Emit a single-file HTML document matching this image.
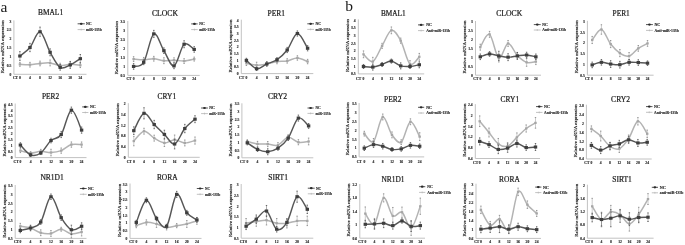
<!DOCTYPE html>
<html><head><meta charset="utf-8"><title>Figure</title>
<style>
html,body{margin:0;padding:0;background:#fff;}
body{width:685px;height:245px;overflow:hidden;}
svg{display:block;filter:grayscale(1) blur(0.3px);}
text{font-family:"Liberation Serif", serif;fill:#1a1a1a;}
.tk{font-size:3.7px;font-weight:bold;stroke:#1a1a1a;stroke-width:0.12px;}
.yt{font-size:4.9px;stroke:#1a1a1a;stroke-width:0.16px;}
.ti{font-size:7.4px;stroke:#1a1a1a;stroke-width:0.2px;}
.lg{font-size:3.9px;font-weight:bold;stroke:#1a1a1a;stroke-width:0.12px;}
.pl{font-size:15.5px;}
</style></head><body>
<svg width="685" height="245" viewBox="0 0 685 245">
<rect width="685" height="245" fill="#fff"/>
<text x="0.6" y="11.6" class="pl">a</text>
<text x="345.3" y="11.2" class="pl">b</text>
<path d="M13.9,20.4 V74.3 H86.5" fill="none" stroke="#c2c2c2" stroke-width="1"/>
<text x="11.3" y="75.7" class="tk" text-anchor="end">0</text>
<text x="11.3" y="66.83" class="tk" text-anchor="end">0.5</text>
<text x="11.3" y="57.97" class="tk" text-anchor="end">1</text>
<text x="11.3" y="49.1" class="tk" text-anchor="end">1.5</text>
<text x="11.3" y="40.23" class="tk" text-anchor="end">2</text>
<text x="11.3" y="31.37" class="tk" text-anchor="end">2.5</text>
<text x="11.3" y="22.5" class="tk" text-anchor="end">3</text>
<text x="12.9" y="79.3" class="tk">CT</text>
<text x="19.9" y="79.3" class="tk" text-anchor="middle">0</text>
<text x="29.97" y="79.3" class="tk" text-anchor="middle">4</text>
<text x="40.04" y="79.3" class="tk" text-anchor="middle">8</text>
<text x="50.11" y="79.3" class="tk" text-anchor="middle">12</text>
<text x="60.18" y="79.3" class="tk" text-anchor="middle">16</text>
<text x="70.25" y="79.3" class="tk" text-anchor="middle">20</text>
<text x="80.32" y="79.3" class="tk" text-anchor="middle">24</text>
<text class="yt" transform="translate(4.4,46.8) rotate(-90)" text-anchor="middle" textLength="53" lengthAdjust="spacingAndGlyphs">Relative mRNA expression</text>
<text x="38" y="15.4" class="ti" textLength="25.1" lengthAdjust="spacingAndGlyphs">BMAL1</text>
<line x1="77.6" y1="23.8" x2="84.8" y2="23.8" stroke="#555" stroke-width="1.0"/>
<ellipse cx="81.2" cy="23.8" rx="1.4" ry="1.1" fill="#2a2a2a"/>
<line x1="81.2" y1="28.7" x2="81.2" y2="30.5" stroke="#aaa" stroke-width="0.6"/>
<line x1="77.6" y1="29.6" x2="84.8" y2="29.6" stroke="#b3b3b3" stroke-width="0.8"/>
<text x="86.1" y="25.2" class="lg" textLength="5.5" lengthAdjust="spacingAndGlyphs">NC</text>
<text x="86.1" y="31" class="lg" textLength="15.7" lengthAdjust="spacingAndGlyphs">miR-135b</text>
<path d="M19.9,62.4 V66.3" stroke="#a0a0a0" stroke-width="0.55" fill="none"/>
<path d="M19.2,62.4 H20.6 M19.2,66.3 H20.6" stroke="#808080" stroke-width="0.8" fill="none"/>
<path d="M29.97,62.36 V67.04" stroke="#a0a0a0" stroke-width="0.55" fill="none"/>
<path d="M29.27,62.36 H30.67 M29.27,67.04 H30.67" stroke="#808080" stroke-width="0.8" fill="none"/>
<path d="M40.04,61.12 V65.8" stroke="#a0a0a0" stroke-width="0.55" fill="none"/>
<path d="M39.34,61.12 H40.74 M39.34,65.8 H40.74" stroke="#808080" stroke-width="0.8" fill="none"/>
<path d="M50.11,60 V65.85" stroke="#a0a0a0" stroke-width="0.55" fill="none"/>
<path d="M49.41,60 H50.81 M49.41,65.85 H50.81" stroke="#808080" stroke-width="0.8" fill="none"/>
<path d="M60.18,63.25 V67.93" stroke="#a0a0a0" stroke-width="0.55" fill="none"/>
<path d="M59.48,63.25 H60.88 M59.48,67.93 H60.88" stroke="#808080" stroke-width="0.8" fill="none"/>
<path d="M70.25,62.01 V66.69" stroke="#a0a0a0" stroke-width="0.55" fill="none"/>
<path d="M69.55,62.01 H70.95 M69.55,66.69 H70.95" stroke="#808080" stroke-width="0.8" fill="none"/>
<path d="M80.32,62.89 V67.57" stroke="#a0a0a0" stroke-width="0.55" fill="none"/>
<path d="M79.62,62.89 H81.02 M79.62,67.57 H81.02" stroke="#808080" stroke-width="0.8" fill="none"/>
<path d="M19.9,64.35 C21.58,64.41 26.61,64.85 29.97,64.7 C33.33,64.55 36.68,63.76 40.04,63.46 C43.4,63.16 46.75,62.57 50.11,62.93 C53.47,63.28 56.82,65.35 60.18,65.59 C63.54,65.82 66.89,64.41 70.25,64.35 C73.61,64.29 78.64,65.09 80.32,65.23" fill="none" stroke="#b3b3b3" stroke-width="1.5"/>
<rect x="18.7" y="63.25" width="2.4" height="2.2" fill="#a6a6a6"/>
<rect x="28.77" y="63.6" width="2.4" height="2.2" fill="#a6a6a6"/>
<rect x="38.84" y="62.36" width="2.4" height="2.2" fill="#a6a6a6"/>
<rect x="48.91" y="61.83" width="2.4" height="2.2" fill="#a6a6a6"/>
<rect x="58.98" y="64.49" width="2.4" height="2.2" fill="#a6a6a6"/>
<rect x="69.05" y="63.25" width="2.4" height="2.2" fill="#a6a6a6"/>
<rect x="79.12" y="64.13" width="2.4" height="2.2" fill="#a6a6a6"/>
<path d="M19.9,51.63 V60.39" stroke="#6e6e6e" stroke-width="0.55" fill="none"/>
<path d="M19.2,51.63 H20.6 M19.2,60.39 H20.6" stroke="#4a4a4a" stroke-width="0.8" fill="none"/>
<path d="M29.97,43.35 V51.65" stroke="#6e6e6e" stroke-width="0.55" fill="none"/>
<path d="M29.27,43.35 H30.67 M29.27,51.65 H30.67" stroke="#4a4a4a" stroke-width="0.8" fill="none"/>
<path d="M40.04,27.11 V36.33" stroke="#6e6e6e" stroke-width="0.55" fill="none"/>
<path d="M39.34,27.11 H40.74 M39.34,36.33 H40.74" stroke="#4a4a4a" stroke-width="0.8" fill="none"/>
<path d="M50.11,48.83 V55.75" stroke="#6e6e6e" stroke-width="0.55" fill="none"/>
<path d="M49.41,48.83 H50.81 M49.41,55.75 H50.81" stroke="#4a4a4a" stroke-width="0.8" fill="none"/>
<path d="M60.18,64.59 V70.13" stroke="#6e6e6e" stroke-width="0.55" fill="none"/>
<path d="M59.48,64.59 H60.88 M59.48,70.13 H60.88" stroke="#4a4a4a" stroke-width="0.8" fill="none"/>
<path d="M70.25,61.42 V68.34" stroke="#6e6e6e" stroke-width="0.55" fill="none"/>
<path d="M69.55,61.42 H70.95 M69.55,68.34 H70.95" stroke="#4a4a4a" stroke-width="0.8" fill="none"/>
<path d="M80.32,54.52 V62.82" stroke="#6e6e6e" stroke-width="0.55" fill="none"/>
<path d="M79.62,54.52 H81.02 M79.62,62.82 H81.02" stroke="#4a4a4a" stroke-width="0.8" fill="none"/>
<path d="M19.9,56.01 C21.58,54.59 26.61,51.55 29.97,47.5 C33.33,43.45 36.68,30.92 40.04,31.72 C43.4,32.52 46.75,46.35 50.11,52.29 C53.47,58.23 56.82,65.26 60.18,67.36 C63.54,69.46 66.89,66.33 70.25,64.88 C73.61,63.43 78.64,59.71 80.32,58.67" fill="none" stroke="#575757" stroke-width="1.45"/>
<rect x="18.2" y="54.46" width="3.4" height="3.1" fill="#3e3e3e"/>
<rect x="28.27" y="45.95" width="3.4" height="3.1" fill="#3e3e3e"/>
<rect x="38.34" y="30.17" width="3.4" height="3.1" fill="#3e3e3e"/>
<rect x="48.41" y="50.74" width="3.4" height="3.1" fill="#3e3e3e"/>
<rect x="58.48" y="65.81" width="3.4" height="3.1" fill="#3e3e3e"/>
<rect x="68.55" y="63.33" width="3.4" height="3.1" fill="#3e3e3e"/>
<rect x="78.62" y="57.12" width="3.4" height="3.1" fill="#3e3e3e"/>
<path d="M127.8,21 V75.4 H199.7" fill="none" stroke="#c2c2c2" stroke-width="1"/>
<text x="125.2" y="76.8" class="tk" text-anchor="end">0.5</text>
<text x="125.2" y="67.85" class="tk" text-anchor="end">1</text>
<text x="125.2" y="58.9" class="tk" text-anchor="end">1.5</text>
<text x="125.2" y="49.95" class="tk" text-anchor="end">2</text>
<text x="125.2" y="41" class="tk" text-anchor="end">2.5</text>
<text x="125.2" y="32.05" class="tk" text-anchor="end">3</text>
<text x="125.2" y="23.1" class="tk" text-anchor="end">3.5</text>
<text x="126.4" y="79.7" class="tk">CT</text>
<text x="133.6" y="79.7" class="tk" text-anchor="middle">0</text>
<text x="143.7" y="79.7" class="tk" text-anchor="middle">4</text>
<text x="153.8" y="79.7" class="tk" text-anchor="middle">8</text>
<text x="163.9" y="79.7" class="tk" text-anchor="middle">12</text>
<text x="174" y="79.7" class="tk" text-anchor="middle">16</text>
<text x="184.1" y="79.7" class="tk" text-anchor="middle">20</text>
<text x="194.2" y="79.7" class="tk" text-anchor="middle">24</text>
<text class="yt" transform="translate(118.3,47.65) rotate(-90)" text-anchor="middle" textLength="53" lengthAdjust="spacingAndGlyphs">Relative mRNA expression</text>
<text x="151.9" y="15.5" class="ti" textLength="26.1" lengthAdjust="spacingAndGlyphs">CLOCK</text>
<line x1="191.2" y1="23.9" x2="197.7" y2="23.9" stroke="#555" stroke-width="1.0"/>
<ellipse cx="194.45" cy="23.9" rx="1.4" ry="1.1" fill="#2a2a2a"/>
<line x1="194.45" y1="28.7" x2="194.45" y2="30.5" stroke="#aaa" stroke-width="0.6"/>
<line x1="191.2" y1="29.6" x2="197.7" y2="29.6" stroke="#b3b3b3" stroke-width="0.8"/>
<text x="199.2" y="25.3" class="lg" textLength="5.4" lengthAdjust="spacingAndGlyphs">NC</text>
<text x="199.2" y="31" class="lg" textLength="15.9" lengthAdjust="spacingAndGlyphs">miR-135b</text>
<path d="M133.6,56.73 V61.45" stroke="#a0a0a0" stroke-width="0.55" fill="none"/>
<path d="M132.9,56.73 H134.3 M132.9,61.45 H134.3" stroke="#808080" stroke-width="0.8" fill="none"/>
<path d="M143.7,57.44 V62.17" stroke="#a0a0a0" stroke-width="0.55" fill="none"/>
<path d="M143,57.44 H144.4 M143,62.17 H144.4" stroke="#808080" stroke-width="0.8" fill="none"/>
<path d="M153.8,56.37 V61.09" stroke="#a0a0a0" stroke-width="0.55" fill="none"/>
<path d="M153.1,56.37 H154.5 M153.1,61.09 H154.5" stroke="#808080" stroke-width="0.8" fill="none"/>
<path d="M163.9,57.75 V63.65" stroke="#a0a0a0" stroke-width="0.55" fill="none"/>
<path d="M163.2,57.75 H164.6 M163.2,63.65 H164.6" stroke="#808080" stroke-width="0.8" fill="none"/>
<path d="M174,57.8 V62.53" stroke="#a0a0a0" stroke-width="0.55" fill="none"/>
<path d="M173.3,57.8 H174.7 M173.3,62.53 H174.7" stroke="#808080" stroke-width="0.8" fill="none"/>
<path d="M184.1,58.7 V63.42" stroke="#a0a0a0" stroke-width="0.55" fill="none"/>
<path d="M183.4,58.7 H184.8 M183.4,63.42 H184.8" stroke="#808080" stroke-width="0.8" fill="none"/>
<path d="M194.2,57.12 V61.06" stroke="#a0a0a0" stroke-width="0.55" fill="none"/>
<path d="M193.5,57.12 H194.9 M193.5,61.06 H194.9" stroke="#808080" stroke-width="0.8" fill="none"/>
<path d="M133.6,59.09 C135.28,59.21 140.33,59.87 143.7,59.81 C147.07,59.75 150.43,58.58 153.8,58.73 C157.17,58.88 160.53,60.46 163.9,60.7 C167.27,60.94 170.63,60.1 174,60.16 C177.37,60.22 180.73,61.24 184.1,61.06 C187.47,60.88 192.52,59.42 194.2,59.09" fill="none" stroke="#b3b3b3" stroke-width="1.5"/>
<rect x="132.4" y="57.99" width="2.4" height="2.2" fill="#a6a6a6"/>
<rect x="142.5" y="58.71" width="2.4" height="2.2" fill="#a6a6a6"/>
<rect x="152.6" y="57.63" width="2.4" height="2.2" fill="#a6a6a6"/>
<rect x="162.7" y="59.6" width="2.4" height="2.2" fill="#a6a6a6"/>
<rect x="172.8" y="59.06" width="2.4" height="2.2" fill="#a6a6a6"/>
<rect x="182.9" y="59.96" width="2.4" height="2.2" fill="#a6a6a6"/>
<rect x="193" y="57.99" width="2.4" height="2.2" fill="#a6a6a6"/>
<path d="M133.6,63.64 V69.22" stroke="#6e6e6e" stroke-width="0.55" fill="none"/>
<path d="M132.9,63.64 H134.3 M132.9,69.22 H134.3" stroke="#4a4a4a" stroke-width="0.8" fill="none"/>
<path d="M143.7,59.99 V64.64" stroke="#6e6e6e" stroke-width="0.55" fill="none"/>
<path d="M143,59.99 H144.4 M143,64.64 H144.4" stroke="#4a4a4a" stroke-width="0.8" fill="none"/>
<path d="M153.8,30.36 V37.34" stroke="#6e6e6e" stroke-width="0.55" fill="none"/>
<path d="M153.1,30.36 H154.5 M153.1,37.34 H154.5" stroke="#4a4a4a" stroke-width="0.8" fill="none"/>
<path d="M163.9,47.88 V53.47" stroke="#6e6e6e" stroke-width="0.55" fill="none"/>
<path d="M163.2,47.88 H164.6 M163.2,53.47 H164.6" stroke="#4a4a4a" stroke-width="0.8" fill="none"/>
<path d="M174,63.1 V68.68" stroke="#6e6e6e" stroke-width="0.55" fill="none"/>
<path d="M173.3,63.1 H174.7 M173.3,68.68 H174.7" stroke="#4a4a4a" stroke-width="0.8" fill="none"/>
<path d="M184.1,40.74 V47.72" stroke="#6e6e6e" stroke-width="0.55" fill="none"/>
<path d="M183.4,40.74 H184.8 M183.4,47.72 H184.8" stroke="#4a4a4a" stroke-width="0.8" fill="none"/>
<path d="M194.2,46.63 V52.22" stroke="#6e6e6e" stroke-width="0.55" fill="none"/>
<path d="M193.5,46.63 H194.9 M193.5,52.22 H194.9" stroke="#4a4a4a" stroke-width="0.8" fill="none"/>
<path d="M133.6,66.43 C135.28,65.74 140.33,67.74 143.7,62.31 C147.07,56.88 150.43,35.79 153.8,33.85 C157.17,31.91 160.53,45.34 163.9,50.68 C167.27,56.02 170.63,66.97 174,65.89 C177.37,64.82 180.73,46.98 184.1,44.23 C187.47,41.49 192.52,48.56 194.2,49.42" fill="none" stroke="#575757" stroke-width="1.45"/>
<rect x="131.9" y="64.88" width="3.4" height="3.1" fill="#3e3e3e"/>
<rect x="142" y="60.76" width="3.4" height="3.1" fill="#3e3e3e"/>
<rect x="152.1" y="32.3" width="3.4" height="3.1" fill="#3e3e3e"/>
<rect x="162.2" y="49.13" width="3.4" height="3.1" fill="#3e3e3e"/>
<rect x="172.3" y="64.34" width="3.4" height="3.1" fill="#3e3e3e"/>
<rect x="182.4" y="42.68" width="3.4" height="3.1" fill="#3e3e3e"/>
<rect x="192.5" y="47.87" width="3.4" height="3.1" fill="#3e3e3e"/>
<path d="M241.3,19.7 V73.6 H313.3" fill="none" stroke="#c2c2c2" stroke-width="1"/>
<text x="238.7" y="75" class="tk" text-anchor="end">0</text>
<text x="238.7" y="68.35" class="tk" text-anchor="end">0.5</text>
<text x="238.7" y="61.7" class="tk" text-anchor="end">1</text>
<text x="238.7" y="55.05" class="tk" text-anchor="end">1.5</text>
<text x="238.7" y="48.4" class="tk" text-anchor="end">2</text>
<text x="238.7" y="41.75" class="tk" text-anchor="end">2.5</text>
<text x="238.7" y="35.1" class="tk" text-anchor="end">3</text>
<text x="238.7" y="28.45" class="tk" text-anchor="end">3.5</text>
<text x="238.7" y="21.8" class="tk" text-anchor="end">4</text>
<text x="239.1" y="79" class="tk">CT</text>
<text x="246.4" y="79" class="tk" text-anchor="middle">0</text>
<text x="256.6" y="79" class="tk" text-anchor="middle">4</text>
<text x="266.8" y="79" class="tk" text-anchor="middle">8</text>
<text x="277" y="79" class="tk" text-anchor="middle">12</text>
<text x="287.2" y="79" class="tk" text-anchor="middle">16</text>
<text x="297.4" y="79" class="tk" text-anchor="middle">20</text>
<text x="307.6" y="79" class="tk" text-anchor="middle">24</text>
<text class="yt" transform="translate(231.8,46.1) rotate(-90)" text-anchor="middle" textLength="53" lengthAdjust="spacingAndGlyphs">Relative mRNA expression</text>
<text x="267.6" y="15.5" class="ti" textLength="17.5" lengthAdjust="spacingAndGlyphs">PER1</text>
<line x1="307.3" y1="23.8" x2="314" y2="23.8" stroke="#555" stroke-width="1.0"/>
<ellipse cx="310.65" cy="23.8" rx="1.4" ry="1.1" fill="#2a2a2a"/>
<line x1="310.65" y1="28.5" x2="310.65" y2="30.3" stroke="#aaa" stroke-width="0.6"/>
<line x1="307.3" y1="29.4" x2="314" y2="29.4" stroke="#b3b3b3" stroke-width="0.8"/>
<text x="315.4" y="25.2" class="lg" textLength="5.5" lengthAdjust="spacingAndGlyphs">NC</text>
<text x="315.4" y="30.8" class="lg" textLength="15.3" lengthAdjust="spacingAndGlyphs">miR-135b</text>
<path d="M246.4,61.1 V65.49" stroke="#a0a0a0" stroke-width="0.55" fill="none"/>
<path d="M245.7,61.1 H247.1 M245.7,65.49 H247.1" stroke="#808080" stroke-width="0.8" fill="none"/>
<path d="M256.6,62.23 V68.08" stroke="#a0a0a0" stroke-width="0.55" fill="none"/>
<path d="M255.9,62.23 H257.3 M255.9,68.08 H257.3" stroke="#808080" stroke-width="0.8" fill="none"/>
<path d="M266.8,61.76 V66.15" stroke="#a0a0a0" stroke-width="0.55" fill="none"/>
<path d="M266.1,61.76 H267.5 M266.1,66.15 H267.5" stroke="#808080" stroke-width="0.8" fill="none"/>
<path d="M277,59.37 V63.76" stroke="#a0a0a0" stroke-width="0.55" fill="none"/>
<path d="M276.3,59.37 H277.7 M276.3,63.76 H277.7" stroke="#808080" stroke-width="0.8" fill="none"/>
<path d="M287.2,58.7 V63.09" stroke="#a0a0a0" stroke-width="0.55" fill="none"/>
<path d="M286.5,58.7 H287.9 M286.5,63.09 H287.9" stroke="#808080" stroke-width="0.8" fill="none"/>
<path d="M297.4,55.78 V60.17" stroke="#a0a0a0" stroke-width="0.55" fill="none"/>
<path d="M296.7,55.78 H298.1 M296.7,60.17 H298.1" stroke="#808080" stroke-width="0.8" fill="none"/>
<path d="M307.6,59.37 V63.76" stroke="#a0a0a0" stroke-width="0.55" fill="none"/>
<path d="M306.9,59.37 H308.3 M306.9,63.76 H308.3" stroke="#808080" stroke-width="0.8" fill="none"/>
<path d="M246.4,63.29 C248.1,63.6 253.2,65.04 256.6,65.15 C260,65.26 263.4,64.56 266.8,63.96 C270.2,63.36 273.6,62.07 277,61.56 C280.4,61.05 283.8,61.5 287.2,60.9 C290.6,60.3 294,57.86 297.4,57.97 C300.8,58.08 305.9,60.96 307.6,61.56" fill="none" stroke="#b3b3b3" stroke-width="1.5"/>
<rect x="245.2" y="62.19" width="2.4" height="2.2" fill="#a6a6a6"/>
<rect x="255.4" y="64.05" width="2.4" height="2.2" fill="#a6a6a6"/>
<rect x="265.6" y="62.86" width="2.4" height="2.2" fill="#a6a6a6"/>
<rect x="275.8" y="60.46" width="2.4" height="2.2" fill="#a6a6a6"/>
<rect x="286" y="59.8" width="2.4" height="2.2" fill="#a6a6a6"/>
<rect x="296.2" y="56.87" width="2.4" height="2.2" fill="#a6a6a6"/>
<rect x="306.4" y="60.46" width="2.4" height="2.2" fill="#a6a6a6"/>
<path d="M246.4,58.29 V62.44" stroke="#6e6e6e" stroke-width="0.55" fill="none"/>
<path d="M245.7,58.29 H247.1 M245.7,62.44 H247.1" stroke="#4a4a4a" stroke-width="0.8" fill="none"/>
<path d="M256.6,67.02 V70.47" stroke="#6e6e6e" stroke-width="0.55" fill="none"/>
<path d="M255.9,67.02 H257.3 M255.9,70.47 H257.3" stroke="#4a4a4a" stroke-width="0.8" fill="none"/>
<path d="M266.8,61.88 V66.03" stroke="#6e6e6e" stroke-width="0.55" fill="none"/>
<path d="M266.1,61.88 H267.5 M266.1,66.03 H267.5" stroke="#4a4a4a" stroke-width="0.8" fill="none"/>
<path d="M277,57.63 V61.78" stroke="#6e6e6e" stroke-width="0.55" fill="none"/>
<path d="M276.3,57.63 H277.7 M276.3,61.78 H277.7" stroke="#4a4a4a" stroke-width="0.8" fill="none"/>
<path d="M287.2,47.4 V52.59" stroke="#6e6e6e" stroke-width="0.55" fill="none"/>
<path d="M286.5,47.4 H287.9 M286.5,52.59 H287.9" stroke="#4a4a4a" stroke-width="0.8" fill="none"/>
<path d="M297.4,30.91 V36.09" stroke="#6e6e6e" stroke-width="0.55" fill="none"/>
<path d="M296.7,30.91 H298.1 M296.7,36.09 H298.1" stroke="#4a4a4a" stroke-width="0.8" fill="none"/>
<path d="M307.6,45.67 V50.86" stroke="#6e6e6e" stroke-width="0.55" fill="none"/>
<path d="M306.9,45.67 H308.3 M306.9,50.86 H308.3" stroke="#4a4a4a" stroke-width="0.8" fill="none"/>
<path d="M246.4,60.37 C248.1,61.76 253.2,68.15 256.6,68.75 C260,69.34 263.4,65.46 266.8,63.96 C270.2,62.45 273.6,62.03 277,59.7 C280.4,57.37 283.8,54.36 287.2,49.99 C290.6,45.63 294,33.79 297.4,33.5 C300.8,33.21 305.9,45.8 307.6,48.26" fill="none" stroke="#575757" stroke-width="1.45"/>
<rect x="244.7" y="58.82" width="3.4" height="3.1" fill="#3e3e3e"/>
<rect x="254.9" y="67.2" width="3.4" height="3.1" fill="#3e3e3e"/>
<rect x="265.1" y="62.41" width="3.4" height="3.1" fill="#3e3e3e"/>
<rect x="275.3" y="58.15" width="3.4" height="3.1" fill="#3e3e3e"/>
<rect x="285.5" y="48.44" width="3.4" height="3.1" fill="#3e3e3e"/>
<rect x="295.7" y="31.95" width="3.4" height="3.1" fill="#3e3e3e"/>
<rect x="305.9" y="46.71" width="3.4" height="3.1" fill="#3e3e3e"/>
<path d="M15.2,103.5 V157.6 H86.5" fill="none" stroke="#c2c2c2" stroke-width="1"/>
<text x="12.6" y="159" class="tk" text-anchor="end">0</text>
<text x="12.6" y="153.07" class="tk" text-anchor="end">0.5</text>
<text x="12.6" y="147.13" class="tk" text-anchor="end">1</text>
<text x="12.6" y="141.2" class="tk" text-anchor="end">1.5</text>
<text x="12.6" y="135.27" class="tk" text-anchor="end">2</text>
<text x="12.6" y="129.33" class="tk" text-anchor="end">2.5</text>
<text x="12.6" y="123.4" class="tk" text-anchor="end">3</text>
<text x="12.6" y="117.47" class="tk" text-anchor="end">3.5</text>
<text x="12.6" y="111.53" class="tk" text-anchor="end">4</text>
<text x="12.6" y="105.6" class="tk" text-anchor="end">4.5</text>
<text x="13.5" y="162.8" class="tk">CT</text>
<text x="20.4" y="162.8" class="tk" text-anchor="middle">0</text>
<text x="30.6" y="162.8" class="tk" text-anchor="middle">4</text>
<text x="40.8" y="162.8" class="tk" text-anchor="middle">8</text>
<text x="51" y="162.8" class="tk" text-anchor="middle">12</text>
<text x="61.2" y="162.8" class="tk" text-anchor="middle">16</text>
<text x="71.4" y="162.8" class="tk" text-anchor="middle">20</text>
<text x="81.6" y="162.8" class="tk" text-anchor="middle">24</text>
<text class="yt" transform="translate(5.7,130) rotate(-90)" text-anchor="middle" textLength="53" lengthAdjust="spacingAndGlyphs">Relative mRNA expression</text>
<text x="41.9" y="98.5" class="ti" textLength="17.2" lengthAdjust="spacingAndGlyphs">PER2</text>
<line x1="82.2" y1="106.9" x2="88.4" y2="106.9" stroke="#555" stroke-width="1.0"/>
<ellipse cx="85.3" cy="106.9" rx="1.4" ry="1.1" fill="#2a2a2a"/>
<line x1="85.3" y1="111.6" x2="85.3" y2="113.4" stroke="#aaa" stroke-width="0.6"/>
<line x1="82.2" y1="112.5" x2="88.4" y2="112.5" stroke="#b3b3b3" stroke-width="0.8"/>
<text x="90" y="108.3" class="lg" textLength="5.6" lengthAdjust="spacingAndGlyphs">NC</text>
<text x="90" y="113.9" class="lg" textLength="16" lengthAdjust="spacingAndGlyphs">miR-135b</text>
<path d="M20.4,148.68 V152.59" stroke="#a0a0a0" stroke-width="0.55" fill="none"/>
<path d="M19.7,148.68 H21.1 M19.7,152.59 H21.1" stroke="#808080" stroke-width="0.8" fill="none"/>
<path d="M30.6,151.7 V154.31" stroke="#a0a0a0" stroke-width="0.55" fill="none"/>
<path d="M29.9,151.7 H31.3 M29.9,154.31 H31.3" stroke="#808080" stroke-width="0.8" fill="none"/>
<path d="M40.8,149.39 V153.31" stroke="#a0a0a0" stroke-width="0.55" fill="none"/>
<path d="M40.1,149.39 H41.5 M40.1,153.31 H41.5" stroke="#808080" stroke-width="0.8" fill="none"/>
<path d="M51,149.27 V155.8" stroke="#a0a0a0" stroke-width="0.55" fill="none"/>
<path d="M50.3,149.27 H51.7 M50.3,155.8 H51.7" stroke="#808080" stroke-width="0.8" fill="none"/>
<path d="M61.2,148.03 V153.25" stroke="#a0a0a0" stroke-width="0.55" fill="none"/>
<path d="M60.5,148.03 H61.9 M60.5,153.25 H61.9" stroke="#808080" stroke-width="0.8" fill="none"/>
<path d="M71.4,141.97 V147.19" stroke="#a0a0a0" stroke-width="0.55" fill="none"/>
<path d="M70.7,141.97 H72.1 M70.7,147.19 H72.1" stroke="#808080" stroke-width="0.8" fill="none"/>
<path d="M81.6,141.97 V147.19" stroke="#a0a0a0" stroke-width="0.55" fill="none"/>
<path d="M80.9,141.97 H82.3 M80.9,147.19 H82.3" stroke="#808080" stroke-width="0.8" fill="none"/>
<path d="M20.4,150.64 C22.1,151.03 27.2,152.89 30.6,153.01 C34,153.13 37.4,151.43 40.8,151.35 C44.2,151.27 47.6,152.65 51,152.53 C54.4,152.42 57.8,151.96 61.2,150.64 C64.6,149.31 68,145.59 71.4,144.58 C74.8,143.58 79.9,144.58 81.6,144.58" fill="none" stroke="#b3b3b3" stroke-width="1.5"/>
<rect x="19.2" y="149.54" width="2.4" height="2.2" fill="#a6a6a6"/>
<rect x="29.4" y="151.91" width="2.4" height="2.2" fill="#a6a6a6"/>
<rect x="39.6" y="150.25" width="2.4" height="2.2" fill="#a6a6a6"/>
<rect x="49.8" y="151.43" width="2.4" height="2.2" fill="#a6a6a6"/>
<rect x="60" y="149.54" width="2.4" height="2.2" fill="#a6a6a6"/>
<rect x="70.2" y="143.48" width="2.4" height="2.2" fill="#a6a6a6"/>
<rect x="80.4" y="143.48" width="2.4" height="2.2" fill="#a6a6a6"/>
<path d="M20.4,142.74 V147.37" stroke="#6e6e6e" stroke-width="0.55" fill="none"/>
<path d="M19.7,142.74 H21.1 M19.7,147.37 H21.1" stroke="#4a4a4a" stroke-width="0.8" fill="none"/>
<path d="M30.6,153.37 V156.45" stroke="#6e6e6e" stroke-width="0.55" fill="none"/>
<path d="M29.9,153.37 H31.3 M29.9,156.45 H31.3" stroke="#4a4a4a" stroke-width="0.8" fill="none"/>
<path d="M40.8,151.47 V154.55" stroke="#6e6e6e" stroke-width="0.55" fill="none"/>
<path d="M40.1,151.47 H41.5 M40.1,154.55 H41.5" stroke="#4a4a4a" stroke-width="0.8" fill="none"/>
<path d="M51,138.24 V142.86" stroke="#6e6e6e" stroke-width="0.55" fill="none"/>
<path d="M50.3,138.24 H51.7 M50.3,142.86 H51.7" stroke="#4a4a4a" stroke-width="0.8" fill="none"/>
<path d="M61.2,131.41 V137.58" stroke="#6e6e6e" stroke-width="0.55" fill="none"/>
<path d="M60.5,131.41 H61.9 M60.5,137.58 H61.9" stroke="#4a4a4a" stroke-width="0.8" fill="none"/>
<path d="M71.4,107.09 V113.26" stroke="#6e6e6e" stroke-width="0.55" fill="none"/>
<path d="M70.7,107.09 H72.1 M70.7,113.26 H72.1" stroke="#4a4a4a" stroke-width="0.8" fill="none"/>
<path d="M81.6,127.02 V133.19" stroke="#6e6e6e" stroke-width="0.55" fill="none"/>
<path d="M80.9,127.02 H82.3 M80.9,133.19 H82.3" stroke="#4a4a4a" stroke-width="0.8" fill="none"/>
<path d="M20.4,145.06 C22.1,146.7 27.2,153.58 30.6,154.91 C34,156.23 37.4,155.4 40.8,153.01 C44.2,150.62 47.6,143.63 51,140.55 C54.4,137.46 57.8,139.56 61.2,134.5 C64.6,129.43 68,110.9 71.4,110.17 C74.8,109.44 79.9,126.78 81.6,130.11" fill="none" stroke="#575757" stroke-width="1.45"/>
<rect x="18.7" y="143.51" width="3.4" height="3.1" fill="#3e3e3e"/>
<rect x="28.9" y="153.36" width="3.4" height="3.1" fill="#3e3e3e"/>
<rect x="39.1" y="151.46" width="3.4" height="3.1" fill="#3e3e3e"/>
<rect x="49.3" y="139" width="3.4" height="3.1" fill="#3e3e3e"/>
<rect x="59.5" y="132.95" width="3.4" height="3.1" fill="#3e3e3e"/>
<rect x="69.7" y="108.62" width="3.4" height="3.1" fill="#3e3e3e"/>
<rect x="79.9" y="128.56" width="3.4" height="3.1" fill="#3e3e3e"/>
<path d="M128.3,103.2 V157.3 H199.7" fill="none" stroke="#c2c2c2" stroke-width="1"/>
<text x="125.7" y="158.7" class="tk" text-anchor="end">0</text>
<text x="125.7" y="148.02" class="tk" text-anchor="end">0.4</text>
<text x="125.7" y="137.34" class="tk" text-anchor="end">0.8</text>
<text x="125.7" y="126.66" class="tk" text-anchor="end">1.2</text>
<text x="125.7" y="115.98" class="tk" text-anchor="end">1.6</text>
<text x="125.7" y="105.3" class="tk" text-anchor="end">2</text>
<text x="126.7" y="162.7" class="tk">CT</text>
<text x="133.8" y="162.7" class="tk" text-anchor="middle">0</text>
<text x="144" y="162.7" class="tk" text-anchor="middle">4</text>
<text x="154.2" y="162.7" class="tk" text-anchor="middle">8</text>
<text x="164.4" y="162.7" class="tk" text-anchor="middle">12</text>
<text x="174.6" y="162.7" class="tk" text-anchor="middle">16</text>
<text x="184.8" y="162.7" class="tk" text-anchor="middle">20</text>
<text x="195" y="162.7" class="tk" text-anchor="middle">24</text>
<text class="yt" transform="translate(118.8,129.7) rotate(-90)" text-anchor="middle" textLength="53" lengthAdjust="spacingAndGlyphs">Relative mRNA expression</text>
<text x="157.6" y="98.5" class="ti" textLength="18.5" lengthAdjust="spacingAndGlyphs">CRY1</text>
<line x1="201.1" y1="108" x2="207.9" y2="108" stroke="#555" stroke-width="1.0"/>
<ellipse cx="204.5" cy="108" rx="1.4" ry="1.1" fill="#2a2a2a"/>
<line x1="204.5" y1="112.7" x2="204.5" y2="114.5" stroke="#aaa" stroke-width="0.6"/>
<line x1="201.1" y1="113.6" x2="207.9" y2="113.6" stroke="#b3b3b3" stroke-width="0.8"/>
<text x="209.2" y="109.4" class="lg" textLength="5.6" lengthAdjust="spacingAndGlyphs">NC</text>
<text x="209.2" y="115" class="lg" textLength="15.7" lengthAdjust="spacingAndGlyphs">miR-135b</text>
<path d="M133.8,136.38 V145.78" stroke="#a0a0a0" stroke-width="0.55" fill="none"/>
<path d="M133.1,136.38 H134.5 M133.1,145.78 H134.5" stroke="#808080" stroke-width="0.8" fill="none"/>
<path d="M144,128.26 V134.14" stroke="#a0a0a0" stroke-width="0.55" fill="none"/>
<path d="M143.3,128.26 H144.7 M143.3,134.14 H144.7" stroke="#808080" stroke-width="0.8" fill="none"/>
<path d="M154.2,135.21 V141.08" stroke="#a0a0a0" stroke-width="0.55" fill="none"/>
<path d="M153.5,135.21 H154.9 M153.5,141.08 H154.9" stroke="#808080" stroke-width="0.8" fill="none"/>
<path d="M164.4,139.42 V146.47" stroke="#a0a0a0" stroke-width="0.55" fill="none"/>
<path d="M163.7,139.42 H165.1 M163.7,146.47 H165.1" stroke="#808080" stroke-width="0.8" fill="none"/>
<path d="M174.6,135.05 V144.44" stroke="#a0a0a0" stroke-width="0.55" fill="none"/>
<path d="M173.9,135.05 H175.3 M173.9,144.44 H175.3" stroke="#808080" stroke-width="0.8" fill="none"/>
<path d="M184.8,140.01 V145.89" stroke="#a0a0a0" stroke-width="0.55" fill="none"/>
<path d="M184.1,140.01 H185.5 M184.1,145.89 H185.5" stroke="#808080" stroke-width="0.8" fill="none"/>
<path d="M195,137.02 V144.07" stroke="#a0a0a0" stroke-width="0.55" fill="none"/>
<path d="M194.3,137.02 H195.7 M194.3,144.07 H195.7" stroke="#808080" stroke-width="0.8" fill="none"/>
<path d="M133.8,141.08 C135.5,139.43 140.6,131.69 144,131.2 C147.4,130.71 150.8,136.19 154.2,138.14 C157.6,140.1 161,142.68 164.4,142.95 C167.8,143.22 171.2,139.75 174.6,139.75 C178,139.75 181.4,142.82 184.8,142.95 C188.2,143.08 193.3,140.95 195,140.55" fill="none" stroke="#b3b3b3" stroke-width="1.5"/>
<rect x="132.6" y="139.98" width="2.4" height="2.2" fill="#a6a6a6"/>
<rect x="142.8" y="130.1" width="2.4" height="2.2" fill="#a6a6a6"/>
<rect x="153" y="137.04" width="2.4" height="2.2" fill="#a6a6a6"/>
<rect x="163.2" y="141.85" width="2.4" height="2.2" fill="#a6a6a6"/>
<rect x="173.4" y="138.65" width="2.4" height="2.2" fill="#a6a6a6"/>
<rect x="183.6" y="141.85" width="2.4" height="2.2" fill="#a6a6a6"/>
<rect x="193.8" y="139.45" width="2.4" height="2.2" fill="#a6a6a6"/>
<path d="M133.8,126.85 V134.49" stroke="#6e6e6e" stroke-width="0.55" fill="none"/>
<path d="M133.1,126.85 H134.5 M133.1,134.49 H134.5" stroke="#4a4a4a" stroke-width="0.8" fill="none"/>
<path d="M144,107.76 V118.87" stroke="#6e6e6e" stroke-width="0.55" fill="none"/>
<path d="M143.3,107.76 H144.7 M143.3,118.87 H144.7" stroke="#4a4a4a" stroke-width="0.8" fill="none"/>
<path d="M154.2,120.36 V128.69" stroke="#6e6e6e" stroke-width="0.55" fill="none"/>
<path d="M153.5,120.36 H154.9 M153.5,128.69 H154.9" stroke="#4a4a4a" stroke-width="0.8" fill="none"/>
<path d="M164.4,130.24 V138.57" stroke="#6e6e6e" stroke-width="0.55" fill="none"/>
<path d="M163.7,130.24 H165.1 M163.7,138.57 H165.1" stroke="#4a4a4a" stroke-width="0.8" fill="none"/>
<path d="M174.6,139.16 V148.88" stroke="#6e6e6e" stroke-width="0.55" fill="none"/>
<path d="M173.9,139.16 H175.3 M173.9,148.88 H175.3" stroke="#4a4a4a" stroke-width="0.8" fill="none"/>
<path d="M184.8,124.37 V132.7" stroke="#6e6e6e" stroke-width="0.55" fill="none"/>
<path d="M184.1,124.37 H185.5 M184.1,132.7 H185.5" stroke="#4a4a4a" stroke-width="0.8" fill="none"/>
<path d="M195,115.72 V122.66" stroke="#6e6e6e" stroke-width="0.55" fill="none"/>
<path d="M194.3,115.72 H195.7 M194.3,122.66 H195.7" stroke="#4a4a4a" stroke-width="0.8" fill="none"/>
<path d="M133.8,130.67 C135.5,127.77 140.6,114.34 144,113.31 C147.4,112.29 150.8,121.01 154.2,124.53 C157.6,128.04 161,131.16 164.4,134.41 C167.8,137.65 171.2,145 174.6,144.02 C178,143.04 181.4,132.67 184.8,128.53 C188.2,124.39 193.3,120.74 195,119.19" fill="none" stroke="#575757" stroke-width="1.45"/>
<rect x="132.1" y="129.12" width="3.4" height="3.1" fill="#3e3e3e"/>
<rect x="142.3" y="111.76" width="3.4" height="3.1" fill="#3e3e3e"/>
<rect x="152.5" y="122.98" width="3.4" height="3.1" fill="#3e3e3e"/>
<rect x="162.7" y="132.85" width="3.4" height="3.1" fill="#3e3e3e"/>
<rect x="172.9" y="142.47" width="3.4" height="3.1" fill="#3e3e3e"/>
<rect x="183.1" y="126.98" width="3.4" height="3.1" fill="#3e3e3e"/>
<rect x="193.3" y="117.64" width="3.4" height="3.1" fill="#3e3e3e"/>
<path d="M241.9,103.3 V157.8 H313.3" fill="none" stroke="#c2c2c2" stroke-width="1"/>
<text x="239.3" y="159.2" class="tk" text-anchor="end">0</text>
<text x="239.3" y="151.51" class="tk" text-anchor="end">0.5</text>
<text x="239.3" y="143.83" class="tk" text-anchor="end">1</text>
<text x="239.3" y="136.14" class="tk" text-anchor="end">1.5</text>
<text x="239.3" y="128.46" class="tk" text-anchor="end">2</text>
<text x="239.3" y="120.77" class="tk" text-anchor="end">2.5</text>
<text x="239.3" y="113.09" class="tk" text-anchor="end">3</text>
<text x="239.3" y="105.4" class="tk" text-anchor="end">3.5</text>
<text x="240.1" y="163" class="tk">CT</text>
<text x="247.3" y="163" class="tk" text-anchor="middle">0</text>
<text x="257.52" y="163" class="tk" text-anchor="middle">4</text>
<text x="267.74" y="163" class="tk" text-anchor="middle">8</text>
<text x="277.96" y="163" class="tk" text-anchor="middle">12</text>
<text x="288.18" y="163" class="tk" text-anchor="middle">16</text>
<text x="298.4" y="163" class="tk" text-anchor="middle">20</text>
<text x="308.62" y="163" class="tk" text-anchor="middle">24</text>
<text class="yt" transform="translate(232.4,130) rotate(-90)" text-anchor="middle" textLength="53" lengthAdjust="spacingAndGlyphs">Relative mRNA expression</text>
<text x="267.9" y="98.5" class="ti" textLength="19.2" lengthAdjust="spacingAndGlyphs">CRY2</text>
<line x1="307.5" y1="108" x2="313.7" y2="108" stroke="#555" stroke-width="1.0"/>
<ellipse cx="310.6" cy="108" rx="1.4" ry="1.1" fill="#2a2a2a"/>
<line x1="310.6" y1="112.5" x2="310.6" y2="114.3" stroke="#aaa" stroke-width="0.6"/>
<line x1="307.5" y1="113.4" x2="313.7" y2="113.4" stroke="#b3b3b3" stroke-width="0.8"/>
<text x="315.4" y="109.4" class="lg" textLength="5.1" lengthAdjust="spacingAndGlyphs">NC</text>
<text x="315.4" y="114.8" class="lg" textLength="15.3" lengthAdjust="spacingAndGlyphs">miR-135b</text>
<path d="M247.3,139.77 V143.15" stroke="#a0a0a0" stroke-width="0.55" fill="none"/>
<path d="M246.6,139.77 H248 M246.6,143.15 H248" stroke="#808080" stroke-width="0.8" fill="none"/>
<path d="M257.52,141.38 V146.46" stroke="#a0a0a0" stroke-width="0.55" fill="none"/>
<path d="M256.82,141.38 H258.22 M256.82,146.46 H258.22" stroke="#808080" stroke-width="0.8" fill="none"/>
<path d="M267.74,141.54 V146.61" stroke="#a0a0a0" stroke-width="0.55" fill="none"/>
<path d="M267.04,141.54 H268.44 M267.04,146.61 H268.44" stroke="#808080" stroke-width="0.8" fill="none"/>
<path d="M277.96,142.61 V147.69" stroke="#a0a0a0" stroke-width="0.55" fill="none"/>
<path d="M277.26,142.61 H278.66 M277.26,147.69 H278.66" stroke="#808080" stroke-width="0.8" fill="none"/>
<path d="M288.18,134.77 V139.85" stroke="#a0a0a0" stroke-width="0.55" fill="none"/>
<path d="M287.48,134.77 H288.88 M287.48,139.85 H288.88" stroke="#808080" stroke-width="0.8" fill="none"/>
<path d="M298.4,139.69 V144.76" stroke="#a0a0a0" stroke-width="0.55" fill="none"/>
<path d="M297.7,139.69 H299.1 M297.7,144.76 H299.1" stroke="#808080" stroke-width="0.8" fill="none"/>
<path d="M308.62,138.08 V144.84" stroke="#a0a0a0" stroke-width="0.55" fill="none"/>
<path d="M307.92,138.08 H309.32 M307.92,144.84 H309.32" stroke="#808080" stroke-width="0.8" fill="none"/>
<path d="M247.3,141.46 C249,141.87 254.11,143.48 257.52,143.92 C260.93,144.35 264.33,143.87 267.74,144.07 C271.15,144.28 274.55,146.28 277.96,145.15 C281.37,144.02 284.77,137.8 288.18,137.31 C291.59,136.82 294.99,141.54 298.4,142.23 C301.81,142.92 306.92,141.59 308.62,141.46" fill="none" stroke="#b3b3b3" stroke-width="1.5"/>
<rect x="246.1" y="140.36" width="2.4" height="2.2" fill="#a6a6a6"/>
<rect x="256.32" y="142.82" width="2.4" height="2.2" fill="#a6a6a6"/>
<rect x="266.54" y="142.97" width="2.4" height="2.2" fill="#a6a6a6"/>
<rect x="276.76" y="144.05" width="2.4" height="2.2" fill="#a6a6a6"/>
<rect x="286.98" y="136.21" width="2.4" height="2.2" fill="#a6a6a6"/>
<rect x="297.2" y="141.13" width="2.4" height="2.2" fill="#a6a6a6"/>
<rect x="307.42" y="140.36" width="2.4" height="2.2" fill="#a6a6a6"/>
<path d="M247.3,140.85 V144.84" stroke="#6e6e6e" stroke-width="0.55" fill="none"/>
<path d="M246.6,140.85 H248 M246.6,144.84 H248" stroke="#4a4a4a" stroke-width="0.8" fill="none"/>
<path d="M257.52,147.45 V151.45" stroke="#6e6e6e" stroke-width="0.55" fill="none"/>
<path d="M256.82,147.45 H258.22 M256.82,151.45 H258.22" stroke="#4a4a4a" stroke-width="0.8" fill="none"/>
<path d="M267.74,148.76 V154.76" stroke="#6e6e6e" stroke-width="0.55" fill="none"/>
<path d="M267.04,148.76 H268.44 M267.04,154.76 H268.44" stroke="#4a4a4a" stroke-width="0.8" fill="none"/>
<path d="M277.96,146.23 V150.22" stroke="#6e6e6e" stroke-width="0.55" fill="none"/>
<path d="M277.26,146.23 H278.66 M277.26,150.22 H278.66" stroke="#4a4a4a" stroke-width="0.8" fill="none"/>
<path d="M288.18,135.68 V140.48" stroke="#6e6e6e" stroke-width="0.55" fill="none"/>
<path d="M287.48,135.68 H288.88 M287.48,140.48 H288.88" stroke="#4a4a4a" stroke-width="0.8" fill="none"/>
<path d="M298.4,115.1 V121.09" stroke="#6e6e6e" stroke-width="0.55" fill="none"/>
<path d="M297.7,115.1 H299.1 M297.7,121.09 H299.1" stroke="#4a4a4a" stroke-width="0.8" fill="none"/>
<path d="M308.62,123.54 V128.33" stroke="#6e6e6e" stroke-width="0.55" fill="none"/>
<path d="M307.92,123.54 H309.32 M307.92,128.33 H309.32" stroke="#4a4a4a" stroke-width="0.8" fill="none"/>
<path d="M247.3,142.84 C249,143.95 254.11,147.97 257.52,149.45 C260.93,150.94 264.33,151.96 267.74,151.76 C271.15,151.55 274.55,150.5 277.96,148.22 C281.37,145.94 284.77,143.1 288.18,138.08 C291.59,133.06 294.99,120.12 298.4,118.1 C301.81,116.07 306.92,124.63 308.62,125.93" fill="none" stroke="#575757" stroke-width="1.45"/>
<rect x="245.6" y="141.29" width="3.4" height="3.1" fill="#3e3e3e"/>
<rect x="255.82" y="147.9" width="3.4" height="3.1" fill="#3e3e3e"/>
<rect x="266.04" y="150.21" width="3.4" height="3.1" fill="#3e3e3e"/>
<rect x="276.26" y="146.67" width="3.4" height="3.1" fill="#3e3e3e"/>
<rect x="286.48" y="136.53" width="3.4" height="3.1" fill="#3e3e3e"/>
<rect x="296.7" y="116.55" width="3.4" height="3.1" fill="#3e3e3e"/>
<rect x="306.92" y="124.38" width="3.4" height="3.1" fill="#3e3e3e"/>
<path d="M15.2,185 V238.4 H86.5" fill="none" stroke="#c2c2c2" stroke-width="1"/>
<text x="12.6" y="239.8" class="tk" text-anchor="end">0.5</text>
<text x="12.6" y="231.02" class="tk" text-anchor="end">1</text>
<text x="12.6" y="222.23" class="tk" text-anchor="end">1.5</text>
<text x="12.6" y="213.45" class="tk" text-anchor="end">2</text>
<text x="12.6" y="204.67" class="tk" text-anchor="end">2.5</text>
<text x="12.6" y="195.88" class="tk" text-anchor="end">3</text>
<text x="12.6" y="187.1" class="tk" text-anchor="end">3.5</text>
<text x="13.9" y="243.3" class="tk">CT</text>
<text x="20.3" y="243.3" class="tk" text-anchor="middle">0</text>
<text x="30.52" y="243.3" class="tk" text-anchor="middle">4</text>
<text x="40.74" y="243.3" class="tk" text-anchor="middle">8</text>
<text x="50.96" y="243.3" class="tk" text-anchor="middle">12</text>
<text x="61.18" y="243.3" class="tk" text-anchor="middle">16</text>
<text x="71.4" y="243.3" class="tk" text-anchor="middle">20</text>
<text x="81.62" y="243.3" class="tk" text-anchor="middle">24</text>
<text class="yt" transform="translate(5.7,211.15) rotate(-90)" text-anchor="middle" textLength="53" lengthAdjust="spacingAndGlyphs">Relative mRNA expression</text>
<text x="40.4" y="179.6" class="ti" textLength="23.3" lengthAdjust="spacingAndGlyphs">NR1D1</text>
<line x1="79.9" y1="188.5" x2="86.7" y2="188.5" stroke="#555" stroke-width="1.0"/>
<ellipse cx="83.3" cy="188.5" rx="1.4" ry="1.1" fill="#2a2a2a"/>
<line x1="83.3" y1="193.4" x2="83.3" y2="195.2" stroke="#aaa" stroke-width="0.6"/>
<line x1="79.9" y1="194.3" x2="86.7" y2="194.3" stroke="#b3b3b3" stroke-width="0.8"/>
<text x="88" y="189.9" class="lg" textLength="5.6" lengthAdjust="spacingAndGlyphs">NC</text>
<text x="88" y="195.7" class="lg" textLength="16.1" lengthAdjust="spacingAndGlyphs">miR-135b</text>
<path d="M20.3,223.36 V229.15" stroke="#a0a0a0" stroke-width="0.55" fill="none"/>
<path d="M19.6,223.36 H21 M19.6,229.15 H21" stroke="#808080" stroke-width="0.8" fill="none"/>
<path d="M30.52,225.11 V230.91" stroke="#a0a0a0" stroke-width="0.55" fill="none"/>
<path d="M29.82,225.11 H31.22 M29.82,230.91 H31.22" stroke="#808080" stroke-width="0.8" fill="none"/>
<path d="M40.74,229.86 V235.65" stroke="#a0a0a0" stroke-width="0.55" fill="none"/>
<path d="M40.04,229.86 H41.44 M40.04,235.65 H41.44" stroke="#808080" stroke-width="0.8" fill="none"/>
<path d="M50.96,230.56 V236.36" stroke="#a0a0a0" stroke-width="0.55" fill="none"/>
<path d="M50.26,230.56 H51.66 M50.26,236.36 H51.66" stroke="#808080" stroke-width="0.8" fill="none"/>
<path d="M61.18,227.31 V231.17" stroke="#a0a0a0" stroke-width="0.55" fill="none"/>
<path d="M60.48,227.31 H61.88 M60.48,231.17 H61.88" stroke="#808080" stroke-width="0.8" fill="none"/>
<path d="M71.4,230.12 V237.85" stroke="#a0a0a0" stroke-width="0.55" fill="none"/>
<path d="M70.7,230.12 H72.1 M70.7,237.85 H72.1" stroke="#808080" stroke-width="0.8" fill="none"/>
<path d="M81.62,228.19 V235.92" stroke="#a0a0a0" stroke-width="0.55" fill="none"/>
<path d="M80.92,228.19 H82.32 M80.92,235.92 H82.32" stroke="#808080" stroke-width="0.8" fill="none"/>
<path d="M20.3,226.25 C22,226.55 27.11,226.93 30.52,228.01 C33.93,229.09 37.33,231.85 40.74,232.75 C44.15,233.66 47.55,234.04 50.96,233.46 C54.37,232.87 57.77,229.15 61.18,229.24 C64.59,229.33 67.99,233.52 71.4,233.98 C74.81,234.45 79.92,232.37 81.62,232.05" fill="none" stroke="#b3b3b3" stroke-width="1.5"/>
<rect x="19.1" y="225.15" width="2.4" height="2.2" fill="#a6a6a6"/>
<rect x="29.32" y="226.91" width="2.4" height="2.2" fill="#a6a6a6"/>
<rect x="39.54" y="231.65" width="2.4" height="2.2" fill="#a6a6a6"/>
<rect x="49.76" y="232.36" width="2.4" height="2.2" fill="#a6a6a6"/>
<rect x="59.98" y="228.14" width="2.4" height="2.2" fill="#a6a6a6"/>
<rect x="70.2" y="232.88" width="2.4" height="2.2" fill="#a6a6a6"/>
<rect x="80.42" y="230.95" width="2.4" height="2.2" fill="#a6a6a6"/>
<path d="M20.3,228.19 V232.75" stroke="#6e6e6e" stroke-width="0.55" fill="none"/>
<path d="M19.6,228.19 H21 M19.6,232.75 H21" stroke="#4a4a4a" stroke-width="0.8" fill="none"/>
<path d="M30.52,225.73 V230.29" stroke="#6e6e6e" stroke-width="0.55" fill="none"/>
<path d="M29.82,225.73 H31.22 M29.82,230.29 H31.22" stroke="#4a4a4a" stroke-width="0.8" fill="none"/>
<path d="M40.74,219.75 V224.32" stroke="#6e6e6e" stroke-width="0.55" fill="none"/>
<path d="M40.04,219.75 H41.44 M40.04,224.32 H41.44" stroke="#4a4a4a" stroke-width="0.8" fill="none"/>
<path d="M50.96,194 V199.48" stroke="#6e6e6e" stroke-width="0.55" fill="none"/>
<path d="M50.26,194 H51.66 M50.26,199.48 H51.66" stroke="#4a4a4a" stroke-width="0.8" fill="none"/>
<path d="M61.18,214.91 V220.39" stroke="#6e6e6e" stroke-width="0.55" fill="none"/>
<path d="M60.48,214.91 H61.88 M60.48,220.39 H61.88" stroke="#4a4a4a" stroke-width="0.8" fill="none"/>
<path d="M71.4,225.2 V234.34" stroke="#6e6e6e" stroke-width="0.55" fill="none"/>
<path d="M70.7,225.2 H72.1 M70.7,234.34 H72.1" stroke="#4a4a4a" stroke-width="0.8" fill="none"/>
<path d="M81.62,222.83 V229.68" stroke="#6e6e6e" stroke-width="0.55" fill="none"/>
<path d="M80.92,222.83 H82.32 M80.92,229.68 H82.32" stroke="#4a4a4a" stroke-width="0.8" fill="none"/>
<path d="M20.3,230.47 C22,230.06 27.11,229.42 30.52,228.01 C33.93,226.61 37.33,227.25 40.74,222.04 C44.15,216.83 47.55,197.47 50.96,196.74 C54.37,196.01 57.77,212.14 61.18,217.65 C64.59,223.15 67.99,228.33 71.4,229.77 C74.81,231.2 79.92,226.84 81.62,226.25" fill="none" stroke="#575757" stroke-width="1.45"/>
<rect x="18.6" y="228.92" width="3.4" height="3.1" fill="#3e3e3e"/>
<rect x="28.82" y="226.46" width="3.4" height="3.1" fill="#3e3e3e"/>
<rect x="39.04" y="220.49" width="3.4" height="3.1" fill="#3e3e3e"/>
<rect x="49.26" y="195.19" width="3.4" height="3.1" fill="#3e3e3e"/>
<rect x="59.48" y="216.1" width="3.4" height="3.1" fill="#3e3e3e"/>
<rect x="69.7" y="228.22" width="3.4" height="3.1" fill="#3e3e3e"/>
<rect x="79.92" y="224.7" width="3.4" height="3.1" fill="#3e3e3e"/>
<path d="M130,183.5 V238.4 H201.5" fill="none" stroke="#c2c2c2" stroke-width="1"/>
<text x="127.4" y="239.8" class="tk" text-anchor="end">0</text>
<text x="127.4" y="232.06" class="tk" text-anchor="end">0.5</text>
<text x="127.4" y="224.31" class="tk" text-anchor="end">1</text>
<text x="127.4" y="216.57" class="tk" text-anchor="end">1.5</text>
<text x="127.4" y="208.83" class="tk" text-anchor="end">2</text>
<text x="127.4" y="201.09" class="tk" text-anchor="end">2.5</text>
<text x="127.4" y="193.34" class="tk" text-anchor="end">3</text>
<text x="127.4" y="185.6" class="tk" text-anchor="end">3.5</text>
<text x="129.2" y="243.3" class="tk">CT</text>
<text x="136.3" y="243.3" class="tk" text-anchor="middle">0</text>
<text x="146.4" y="243.3" class="tk" text-anchor="middle">4</text>
<text x="156.5" y="243.3" class="tk" text-anchor="middle">8</text>
<text x="166.6" y="243.3" class="tk" text-anchor="middle">12</text>
<text x="176.7" y="243.3" class="tk" text-anchor="middle">16</text>
<text x="186.8" y="243.3" class="tk" text-anchor="middle">20</text>
<text x="196.9" y="243.3" class="tk" text-anchor="middle">24</text>
<text class="yt" transform="translate(120.5,210.4) rotate(-90)" text-anchor="middle" textLength="53" lengthAdjust="spacingAndGlyphs">Relative mRNA expression</text>
<text x="156.9" y="179.6" class="ti" textLength="20.7" lengthAdjust="spacingAndGlyphs">RORA</text>
<line x1="196.8" y1="188.5" x2="203.4" y2="188.5" stroke="#555" stroke-width="1.0"/>
<ellipse cx="200.1" cy="188.5" rx="1.4" ry="1.1" fill="#2a2a2a"/>
<line x1="200.1" y1="193.4" x2="200.1" y2="195.2" stroke="#aaa" stroke-width="0.6"/>
<line x1="196.8" y1="194.3" x2="203.4" y2="194.3" stroke="#b3b3b3" stroke-width="0.8"/>
<text x="205" y="189.9" class="lg" textLength="4.9" lengthAdjust="spacingAndGlyphs">NC</text>
<text x="205" y="195.7" class="lg" textLength="15.4" lengthAdjust="spacingAndGlyphs">miR-135b</text>
<path d="M136.3,223.61 V227.7" stroke="#a0a0a0" stroke-width="0.55" fill="none"/>
<path d="M135.6,223.61 H137 M135.6,227.7 H137" stroke="#808080" stroke-width="0.8" fill="none"/>
<path d="M146.4,219.85 V224.96" stroke="#a0a0a0" stroke-width="0.55" fill="none"/>
<path d="M145.7,219.85 H147.1 M145.7,224.96 H147.1" stroke="#808080" stroke-width="0.8" fill="none"/>
<path d="M156.5,220.55 V227.36" stroke="#a0a0a0" stroke-width="0.55" fill="none"/>
<path d="M155.8,220.55 H157.2 M155.8,227.36 H157.2" stroke="#808080" stroke-width="0.8" fill="none"/>
<path d="M166.6,224.8 V229.92" stroke="#a0a0a0" stroke-width="0.55" fill="none"/>
<path d="M165.9,224.8 H167.3 M165.9,229.92 H167.3" stroke="#808080" stroke-width="0.8" fill="none"/>
<path d="M176.7,223.61 V227.7" stroke="#a0a0a0" stroke-width="0.55" fill="none"/>
<path d="M176,223.61 H177.4 M176,227.7 H177.4" stroke="#808080" stroke-width="0.8" fill="none"/>
<path d="M186.8,220.55 V227.36" stroke="#a0a0a0" stroke-width="0.55" fill="none"/>
<path d="M186.1,220.55 H187.5 M186.1,227.36 H187.5" stroke="#808080" stroke-width="0.8" fill="none"/>
<path d="M196.9,217.45 V224.26" stroke="#a0a0a0" stroke-width="0.55" fill="none"/>
<path d="M196.2,217.45 H197.6 M196.2,224.26 H197.6" stroke="#808080" stroke-width="0.8" fill="none"/>
<path d="M136.3,225.66 C137.98,225.11 143.03,222.69 146.4,222.4 C149.77,222.12 153.13,223.13 156.5,223.95 C159.87,224.78 163.23,227.08 166.6,227.36 C169.97,227.64 173.33,226.22 176.7,225.66 C180.07,225.09 183.43,224.75 186.8,223.95 C190.17,223.15 195.22,221.37 196.9,220.86" fill="none" stroke="#b3b3b3" stroke-width="1.5"/>
<rect x="135.1" y="224.56" width="2.4" height="2.2" fill="#a6a6a6"/>
<rect x="145.2" y="221.3" width="2.4" height="2.2" fill="#a6a6a6"/>
<rect x="155.3" y="222.85" width="2.4" height="2.2" fill="#a6a6a6"/>
<rect x="165.4" y="226.26" width="2.4" height="2.2" fill="#a6a6a6"/>
<rect x="175.5" y="224.56" width="2.4" height="2.2" fill="#a6a6a6"/>
<rect x="185.6" y="222.85" width="2.4" height="2.2" fill="#a6a6a6"/>
<rect x="195.7" y="219.76" width="2.4" height="2.2" fill="#a6a6a6"/>
<path d="M136.3,220.39 V224.42" stroke="#6e6e6e" stroke-width="0.55" fill="none"/>
<path d="M135.6,220.39 H137 M135.6,224.42 H137" stroke="#4a4a4a" stroke-width="0.8" fill="none"/>
<path d="M146.4,197.84 V202.68" stroke="#6e6e6e" stroke-width="0.55" fill="none"/>
<path d="M145.7,197.84 H147.1 M145.7,202.68 H147.1" stroke="#4a4a4a" stroke-width="0.8" fill="none"/>
<path d="M156.5,216.37 V220.39" stroke="#6e6e6e" stroke-width="0.55" fill="none"/>
<path d="M155.8,216.37 H157.2 M155.8,220.39 H157.2" stroke="#4a4a4a" stroke-width="0.8" fill="none"/>
<path d="M166.6,224.26 V228.29" stroke="#6e6e6e" stroke-width="0.55" fill="none"/>
<path d="M165.9,224.26 H167.3 M165.9,228.29 H167.3" stroke="#4a4a4a" stroke-width="0.8" fill="none"/>
<path d="M176.7,191.36 V197.4" stroke="#6e6e6e" stroke-width="0.55" fill="none"/>
<path d="M176,191.36 H177.4 M176,197.4 H177.4" stroke="#4a4a4a" stroke-width="0.8" fill="none"/>
<path d="M186.8,210.39 V215.22" stroke="#6e6e6e" stroke-width="0.55" fill="none"/>
<path d="M186.1,210.39 H187.5 M186.1,215.22 H187.5" stroke="#4a4a4a" stroke-width="0.8" fill="none"/>
<path d="M196.9,217.51 V222.34" stroke="#6e6e6e" stroke-width="0.55" fill="none"/>
<path d="M196.2,217.51 H197.6 M196.2,222.34 H197.6" stroke="#4a4a4a" stroke-width="0.8" fill="none"/>
<path d="M136.3,222.4 C137.98,218.71 143.03,200.93 146.4,200.26 C149.77,199.59 153.13,214.04 156.5,218.38 C159.87,222.71 163.23,230.28 166.6,226.28 C169.97,222.28 173.33,196.62 176.7,194.38 C180.07,192.13 183.43,208.54 186.8,212.8 C190.17,217.06 195.22,218.74 196.9,219.93" fill="none" stroke="#575757" stroke-width="1.45"/>
<rect x="134.6" y="220.85" width="3.4" height="3.1" fill="#3e3e3e"/>
<rect x="144.7" y="198.71" width="3.4" height="3.1" fill="#3e3e3e"/>
<rect x="154.8" y="216.83" width="3.4" height="3.1" fill="#3e3e3e"/>
<rect x="164.9" y="224.73" width="3.4" height="3.1" fill="#3e3e3e"/>
<rect x="175" y="192.83" width="3.4" height="3.1" fill="#3e3e3e"/>
<rect x="185.1" y="211.25" width="3.4" height="3.1" fill="#3e3e3e"/>
<rect x="195.2" y="218.38" width="3.4" height="3.1" fill="#3e3e3e"/>
<path d="M241.2,184 V238.2 H313.3" fill="none" stroke="#c2c2c2" stroke-width="1"/>
<text x="238.6" y="239.6" class="tk" text-anchor="end">0.5</text>
<text x="238.6" y="228.9" class="tk" text-anchor="end">1</text>
<text x="238.6" y="218.2" class="tk" text-anchor="end">1.5</text>
<text x="238.6" y="207.5" class="tk" text-anchor="end">2</text>
<text x="238.6" y="196.8" class="tk" text-anchor="end">2.5</text>
<text x="238.6" y="186.1" class="tk" text-anchor="end">3</text>
<text x="239.7" y="243" class="tk">CT</text>
<text x="246.1" y="243" class="tk" text-anchor="middle">0</text>
<text x="256.3" y="243" class="tk" text-anchor="middle">4</text>
<text x="266.5" y="243" class="tk" text-anchor="middle">8</text>
<text x="276.7" y="243" class="tk" text-anchor="middle">12</text>
<text x="286.9" y="243" class="tk" text-anchor="middle">16</text>
<text x="297.1" y="243" class="tk" text-anchor="middle">20</text>
<text x="307.3" y="243" class="tk" text-anchor="middle">24</text>
<text class="yt" transform="translate(231.7,210.55) rotate(-90)" text-anchor="middle" textLength="53" lengthAdjust="spacingAndGlyphs">Relative mRNA expression</text>
<text x="268.3" y="179.6" class="ti" textLength="19.7" lengthAdjust="spacingAndGlyphs">SIRT1</text>
<line x1="307.8" y1="188.2" x2="314.7" y2="188.2" stroke="#555" stroke-width="1.0"/>
<ellipse cx="311.25" cy="188.2" rx="1.4" ry="1.1" fill="#2a2a2a"/>
<line x1="311.25" y1="192.9" x2="311.25" y2="194.7" stroke="#aaa" stroke-width="0.6"/>
<line x1="307.8" y1="193.8" x2="314.7" y2="193.8" stroke="#b3b3b3" stroke-width="0.8"/>
<text x="316" y="189.6" class="lg" textLength="5.2" lengthAdjust="spacingAndGlyphs">NC</text>
<text x="316" y="195.2" class="lg" textLength="16" lengthAdjust="spacingAndGlyphs">miR-135b</text>
<path d="M246.1,218.53 V227.94" stroke="#a0a0a0" stroke-width="0.55" fill="none"/>
<path d="M245.4,218.53 H246.8 M245.4,227.94 H246.8" stroke="#808080" stroke-width="0.8" fill="none"/>
<path d="M256.3,216.81 V226.23" stroke="#a0a0a0" stroke-width="0.55" fill="none"/>
<path d="M255.6,216.81 H257 M255.6,226.23 H257" stroke="#808080" stroke-width="0.8" fill="none"/>
<path d="M266.5,215.53 V224.95" stroke="#a0a0a0" stroke-width="0.55" fill="none"/>
<path d="M265.8,215.53 H267.2 M265.8,224.95 H267.2" stroke="#808080" stroke-width="0.8" fill="none"/>
<path d="M276.7,218.53 V227.94" stroke="#a0a0a0" stroke-width="0.55" fill="none"/>
<path d="M276,218.53 H277.4 M276,227.94 H277.4" stroke="#808080" stroke-width="0.8" fill="none"/>
<path d="M286.9,218.53 V227.94" stroke="#a0a0a0" stroke-width="0.55" fill="none"/>
<path d="M286.2,218.53 H287.6 M286.2,227.94 H287.6" stroke="#808080" stroke-width="0.8" fill="none"/>
<path d="M297.1,216.17 V225.59" stroke="#a0a0a0" stroke-width="0.55" fill="none"/>
<path d="M296.4,216.17 H297.8 M296.4,225.59 H297.8" stroke="#808080" stroke-width="0.8" fill="none"/>
<path d="M307.3,216.17 V225.59" stroke="#a0a0a0" stroke-width="0.55" fill="none"/>
<path d="M306.6,216.17 H308 M306.6,225.59 H308" stroke="#808080" stroke-width="0.8" fill="none"/>
<path d="M246.1,223.23 C247.8,222.95 252.9,222.02 256.3,221.52 C259.7,221.02 263.1,219.95 266.5,220.24 C269.9,220.52 273.3,222.73 276.7,223.23 C280.1,223.73 283.5,223.63 286.9,223.23 C290.3,222.84 293.7,221.27 297.1,220.88 C300.5,220.49 305.6,220.88 307.3,220.88" fill="none" stroke="#b3b3b3" stroke-width="1.5"/>
<rect x="244.9" y="222.13" width="2.4" height="2.2" fill="#a6a6a6"/>
<rect x="255.1" y="220.42" width="2.4" height="2.2" fill="#a6a6a6"/>
<rect x="265.3" y="219.14" width="2.4" height="2.2" fill="#a6a6a6"/>
<rect x="275.5" y="222.13" width="2.4" height="2.2" fill="#a6a6a6"/>
<rect x="285.7" y="222.13" width="2.4" height="2.2" fill="#a6a6a6"/>
<rect x="295.9" y="219.78" width="2.4" height="2.2" fill="#a6a6a6"/>
<rect x="306.1" y="219.78" width="2.4" height="2.2" fill="#a6a6a6"/>
<path d="M246.1,222.89 V229.57" stroke="#6e6e6e" stroke-width="0.55" fill="none"/>
<path d="M245.4,222.89 H246.8 M245.4,229.57 H246.8" stroke="#4a4a4a" stroke-width="0.8" fill="none"/>
<path d="M256.3,215 V223.34" stroke="#6e6e6e" stroke-width="0.55" fill="none"/>
<path d="M255.6,215 H257 M255.6,223.34 H257" stroke="#4a4a4a" stroke-width="0.8" fill="none"/>
<path d="M266.5,205.47 V216.6" stroke="#6e6e6e" stroke-width="0.55" fill="none"/>
<path d="M265.8,205.47 H267.2 M265.8,216.6 H267.2" stroke="#4a4a4a" stroke-width="0.8" fill="none"/>
<path d="M276.7,226.44 V232.01" stroke="#6e6e6e" stroke-width="0.55" fill="none"/>
<path d="M276,226.44 H277.4 M276,232.01 H277.4" stroke="#4a4a4a" stroke-width="0.8" fill="none"/>
<path d="M286.9,219.04 V225.72" stroke="#6e6e6e" stroke-width="0.55" fill="none"/>
<path d="M286.2,219.04 H287.6 M286.2,225.72 H287.6" stroke="#4a4a4a" stroke-width="0.8" fill="none"/>
<path d="M297.1,191.13 V202.26" stroke="#6e6e6e" stroke-width="0.55" fill="none"/>
<path d="M296.4,191.13 H297.8 M296.4,202.26 H297.8" stroke="#4a4a4a" stroke-width="0.8" fill="none"/>
<path d="M307.3,205.15 V213.5" stroke="#6e6e6e" stroke-width="0.55" fill="none"/>
<path d="M306.6,205.15 H308 M306.6,213.5 H308" stroke="#4a4a4a" stroke-width="0.8" fill="none"/>
<path d="M246.1,226.23 C247.8,225.05 252.9,221.7 256.3,219.17 C259.7,216.64 263.1,209.36 266.5,211.04 C269.9,212.71 273.3,227.34 276.7,229.23 C280.1,231.12 283.5,227.8 286.9,222.38 C290.3,216.96 293.7,198.87 297.1,196.7 C300.5,194.52 305.6,207.22 307.3,209.32" fill="none" stroke="#575757" stroke-width="1.45"/>
<rect x="244.4" y="224.68" width="3.4" height="3.1" fill="#3e3e3e"/>
<rect x="254.6" y="217.62" width="3.4" height="3.1" fill="#3e3e3e"/>
<rect x="264.8" y="209.49" width="3.4" height="3.1" fill="#3e3e3e"/>
<rect x="275" y="227.68" width="3.4" height="3.1" fill="#3e3e3e"/>
<rect x="285.2" y="220.83" width="3.4" height="3.1" fill="#3e3e3e"/>
<rect x="295.4" y="195.15" width="3.4" height="3.1" fill="#3e3e3e"/>
<rect x="305.6" y="207.77" width="3.4" height="3.1" fill="#3e3e3e"/>
<path d="M358.3,19.4 V73.9 H424.2" fill="none" stroke="#c2c2c2" stroke-width="1"/>
<text x="355.7" y="75.3" class="tk" text-anchor="end">0.5</text>
<text x="355.7" y="67.61" class="tk" text-anchor="end">1</text>
<text x="355.7" y="59.93" class="tk" text-anchor="end">1.5</text>
<text x="355.7" y="52.24" class="tk" text-anchor="end">2</text>
<text x="355.7" y="44.56" class="tk" text-anchor="end">2.5</text>
<text x="355.7" y="36.87" class="tk" text-anchor="end">3</text>
<text x="355.7" y="29.19" class="tk" text-anchor="end">3.5</text>
<text x="355.7" y="21.5" class="tk" text-anchor="end">4</text>
<text x="356.1" y="79.7" class="tk">CT</text>
<text x="363.5" y="79.7" class="tk" text-anchor="middle">0</text>
<text x="372.8" y="79.7" class="tk" text-anchor="middle">4</text>
<text x="382.1" y="79.7" class="tk" text-anchor="middle">8</text>
<text x="391.4" y="79.7" class="tk" text-anchor="middle">12</text>
<text x="400.7" y="79.7" class="tk" text-anchor="middle">16</text>
<text x="410" y="79.7" class="tk" text-anchor="middle">20</text>
<text x="419.3" y="79.7" class="tk" text-anchor="middle">24</text>
<text class="yt" transform="translate(348.5,45.5) rotate(-90)" text-anchor="middle" textLength="53" lengthAdjust="spacingAndGlyphs">Relative mRNA expression</text>
<text x="380.9" y="15.5" class="ti" textLength="24.8" lengthAdjust="spacingAndGlyphs">BMAL1</text>
<line x1="418" y1="24.9" x2="424.2" y2="24.9" stroke="#555" stroke-width="1.0"/>
<ellipse cx="421.1" cy="24.9" rx="1.4" ry="1.1" fill="#2a2a2a"/>
<line x1="421.1" y1="29.7" x2="421.1" y2="31.5" stroke="#aaa" stroke-width="0.6"/>
<line x1="418" y1="30.6" x2="424.2" y2="30.6" stroke="#b3b3b3" stroke-width="0.8"/>
<text x="426.2" y="26.3" class="lg" textLength="5.7" lengthAdjust="spacingAndGlyphs">NC</text>
<text x="426.2" y="32" class="lg" textLength="23.9" lengthAdjust="spacingAndGlyphs">Anti-miR-135b</text>
<path d="M363.5,50.95 V57.71" stroke="#a0a0a0" stroke-width="0.55" fill="none"/>
<path d="M362.8,50.95 H364.2 M362.8,57.71 H364.2" stroke="#808080" stroke-width="0.8" fill="none"/>
<path d="M372.8,57.33 V65.78" stroke="#a0a0a0" stroke-width="0.55" fill="none"/>
<path d="M372.1,57.33 H373.5 M372.1,65.78 H373.5" stroke="#808080" stroke-width="0.8" fill="none"/>
<path d="M382.1,43.34 V48.41" stroke="#a0a0a0" stroke-width="0.55" fill="none"/>
<path d="M381.4,43.34 H382.8 M381.4,48.41 H382.8" stroke="#808080" stroke-width="0.8" fill="none"/>
<path d="M391.4,26.97 V33.73" stroke="#a0a0a0" stroke-width="0.55" fill="none"/>
<path d="M390.7,26.97 H392.1 M390.7,33.73 H392.1" stroke="#808080" stroke-width="0.8" fill="none"/>
<path d="M400.7,38.12 V43.19" stroke="#a0a0a0" stroke-width="0.55" fill="none"/>
<path d="M400,38.12 H401.4 M400,43.19 H401.4" stroke="#808080" stroke-width="0.8" fill="none"/>
<path d="M410,60.63 V67.4" stroke="#a0a0a0" stroke-width="0.55" fill="none"/>
<path d="M409.3,60.63 H410.7 M409.3,67.4 H410.7" stroke="#808080" stroke-width="0.8" fill="none"/>
<path d="M419.3,53.41 V60.17" stroke="#a0a0a0" stroke-width="0.55" fill="none"/>
<path d="M418.6,53.41 H420 M418.6,60.17 H420" stroke="#808080" stroke-width="0.8" fill="none"/>
<path d="M363.5,54.33 C365.05,55.54 369.7,62.97 372.8,61.56 C375.9,60.15 379,51.08 382.1,45.88 C385.2,40.68 388.3,31.22 391.4,30.35 C394.5,29.48 397.6,35.04 400.7,40.65 C403.8,46.26 406.9,61.33 410,64.02 C413.1,66.71 417.75,58 419.3,56.79" fill="none" stroke="#b3b3b3" stroke-width="1.5"/>
<rect x="362.3" y="53.23" width="2.4" height="2.2" fill="#a6a6a6"/>
<rect x="371.6" y="60.46" width="2.4" height="2.2" fill="#a6a6a6"/>
<rect x="380.9" y="44.78" width="2.4" height="2.2" fill="#a6a6a6"/>
<rect x="390.2" y="29.25" width="2.4" height="2.2" fill="#a6a6a6"/>
<rect x="399.5" y="39.55" width="2.4" height="2.2" fill="#a6a6a6"/>
<rect x="408.8" y="62.92" width="2.4" height="2.2" fill="#a6a6a6"/>
<rect x="418.1" y="55.69" width="2.4" height="2.2" fill="#a6a6a6"/>
<path d="M363.5,64.48 V68.47" stroke="#6e6e6e" stroke-width="0.55" fill="none"/>
<path d="M362.8,64.48 H364.2 M362.8,68.47 H364.2" stroke="#4a4a4a" stroke-width="0.8" fill="none"/>
<path d="M372.8,64.09 V70.09" stroke="#6e6e6e" stroke-width="0.55" fill="none"/>
<path d="M372.1,64.09 H373.5 M372.1,70.09 H373.5" stroke="#4a4a4a" stroke-width="0.8" fill="none"/>
<path d="M382.1,62.48 V66.48" stroke="#6e6e6e" stroke-width="0.55" fill="none"/>
<path d="M381.4,62.48 H382.8 M381.4,66.48 H382.8" stroke="#4a4a4a" stroke-width="0.8" fill="none"/>
<path d="M391.4,59.1 V63.09" stroke="#6e6e6e" stroke-width="0.55" fill="none"/>
<path d="M390.7,59.1 H392.1 M390.7,63.09 H392.1" stroke="#4a4a4a" stroke-width="0.8" fill="none"/>
<path d="M400.7,62.86 V68.86" stroke="#6e6e6e" stroke-width="0.55" fill="none"/>
<path d="M400,62.86 H401.4 M400,68.86 H401.4" stroke="#4a4a4a" stroke-width="0.8" fill="none"/>
<path d="M410,64.48 V68.47" stroke="#6e6e6e" stroke-width="0.55" fill="none"/>
<path d="M409.3,64.48 H410.7 M409.3,68.47 H410.7" stroke="#4a4a4a" stroke-width="0.8" fill="none"/>
<path d="M419.3,61.79 V67.78" stroke="#6e6e6e" stroke-width="0.55" fill="none"/>
<path d="M418.6,61.79 H420 M418.6,67.78 H420" stroke="#4a4a4a" stroke-width="0.8" fill="none"/>
<path d="M363.5,66.48 C365.05,66.58 369.7,67.42 372.8,67.09 C375.9,66.76 379,65.48 382.1,64.48 C385.2,63.48 388.3,60.86 391.4,61.1 C394.5,61.33 397.6,64.96 400.7,65.86 C403.8,66.76 406.9,66.65 410,66.48 C413.1,66.3 417.75,65.07 419.3,64.78" fill="none" stroke="#575757" stroke-width="1.45"/>
<rect x="361.8" y="64.93" width="3.4" height="3.1" fill="#3e3e3e"/>
<rect x="371.1" y="65.54" width="3.4" height="3.1" fill="#3e3e3e"/>
<rect x="380.4" y="62.93" width="3.4" height="3.1" fill="#3e3e3e"/>
<rect x="389.7" y="59.55" width="3.4" height="3.1" fill="#3e3e3e"/>
<rect x="399" y="64.31" width="3.4" height="3.1" fill="#3e3e3e"/>
<rect x="408.3" y="64.93" width="3.4" height="3.1" fill="#3e3e3e"/>
<rect x="417.6" y="63.23" width="3.4" height="3.1" fill="#3e3e3e"/>
<path d="M475.5,21 V75.2 H541" fill="none" stroke="#c2c2c2" stroke-width="1"/>
<text x="472.9" y="76.6" class="tk" text-anchor="end">0</text>
<text x="472.9" y="67.68" class="tk" text-anchor="end">0.5</text>
<text x="472.9" y="58.77" class="tk" text-anchor="end">1</text>
<text x="472.9" y="49.85" class="tk" text-anchor="end">1.5</text>
<text x="472.9" y="40.93" class="tk" text-anchor="end">2</text>
<text x="472.9" y="32.02" class="tk" text-anchor="end">2.5</text>
<text x="472.9" y="23.1" class="tk" text-anchor="end">3</text>
<text x="473.3" y="79.7" class="tk">CT</text>
<text x="480.3" y="79.7" class="tk" text-anchor="middle">0</text>
<text x="489.56" y="79.7" class="tk" text-anchor="middle">4</text>
<text x="498.82" y="79.7" class="tk" text-anchor="middle">8</text>
<text x="508.08" y="79.7" class="tk" text-anchor="middle">12</text>
<text x="517.34" y="79.7" class="tk" text-anchor="middle">16</text>
<text x="526.6" y="79.7" class="tk" text-anchor="middle">20</text>
<text x="535.86" y="79.7" class="tk" text-anchor="middle">24</text>
<text class="yt" transform="translate(465.7,46.95) rotate(-90)" text-anchor="middle" textLength="53" lengthAdjust="spacingAndGlyphs">Relative mRNA expression</text>
<text x="496.2" y="16.2" class="ti" textLength="26.1" lengthAdjust="spacingAndGlyphs">CLOCK</text>
<line x1="533.8" y1="24.6" x2="540.7" y2="24.6" stroke="#555" stroke-width="1.0"/>
<ellipse cx="537.25" cy="24.6" rx="1.4" ry="1.1" fill="#2a2a2a"/>
<line x1="537.25" y1="29.1" x2="537.25" y2="30.9" stroke="#aaa" stroke-width="0.6"/>
<line x1="533.8" y1="30" x2="540.7" y2="30" stroke="#b3b3b3" stroke-width="0.8"/>
<text x="542.2" y="26" class="lg" textLength="5.4" lengthAdjust="spacingAndGlyphs">NC</text>
<text x="542.2" y="31.4" class="lg" textLength="24" lengthAdjust="spacingAndGlyphs">Anti-miR-135b</text>
<path d="M480.3,44.24 V50.12" stroke="#a0a0a0" stroke-width="0.55" fill="none"/>
<path d="M479.6,44.24 H481 M479.6,50.12 H481" stroke="#808080" stroke-width="0.8" fill="none"/>
<path d="M489.56,31.4 V37.28" stroke="#a0a0a0" stroke-width="0.55" fill="none"/>
<path d="M488.86,31.4 H490.26 M488.86,37.28 H490.26" stroke="#808080" stroke-width="0.8" fill="none"/>
<path d="M498.82,54.14 V61.98" stroke="#a0a0a0" stroke-width="0.55" fill="none"/>
<path d="M498.12,54.14 H499.52 M498.12,61.98 H499.52" stroke="#808080" stroke-width="0.8" fill="none"/>
<path d="M508.08,40.49 V46.38" stroke="#a0a0a0" stroke-width="0.55" fill="none"/>
<path d="M507.38,40.49 H508.78 M507.38,46.38 H508.78" stroke="#808080" stroke-width="0.8" fill="none"/>
<path d="M517.34,52.62 V58.5" stroke="#a0a0a0" stroke-width="0.55" fill="none"/>
<path d="M516.64,52.62 H518.04 M516.64,58.5 H518.04" stroke="#808080" stroke-width="0.8" fill="none"/>
<path d="M526.6,58.41 V66.26" stroke="#a0a0a0" stroke-width="0.55" fill="none"/>
<path d="M525.9,58.41 H527.3 M525.9,66.26 H527.3" stroke="#808080" stroke-width="0.8" fill="none"/>
<path d="M535.86,58.68 V64.57" stroke="#a0a0a0" stroke-width="0.55" fill="none"/>
<path d="M535.16,58.68 H536.56 M535.16,64.57 H536.56" stroke="#808080" stroke-width="0.8" fill="none"/>
<path d="M480.3,47.18 C481.84,45.04 486.47,32.53 489.56,34.34 C492.65,36.15 495.73,56.54 498.82,58.06 C501.91,59.57 504.99,43.85 508.08,43.44 C511.17,43.02 514.25,52.41 517.34,55.56 C520.43,58.71 523.51,61.33 526.6,62.34 C529.69,63.35 534.32,61.74 535.86,61.62" fill="none" stroke="#b3b3b3" stroke-width="1.5"/>
<rect x="479.1" y="46.08" width="2.4" height="2.2" fill="#a6a6a6"/>
<rect x="488.36" y="33.24" width="2.4" height="2.2" fill="#a6a6a6"/>
<rect x="497.62" y="56.96" width="2.4" height="2.2" fill="#a6a6a6"/>
<rect x="506.88" y="42.34" width="2.4" height="2.2" fill="#a6a6a6"/>
<rect x="516.14" y="54.46" width="2.4" height="2.2" fill="#a6a6a6"/>
<rect x="525.4" y="61.24" width="2.4" height="2.2" fill="#a6a6a6"/>
<rect x="534.66" y="60.52" width="2.4" height="2.2" fill="#a6a6a6"/>
<path d="M480.3,54.03 V59.59" stroke="#6e6e6e" stroke-width="0.55" fill="none"/>
<path d="M479.6,54.03 H481 M479.6,59.59 H481" stroke="#4a4a4a" stroke-width="0.8" fill="none"/>
<path d="M489.56,51.64 V56.27" stroke="#6e6e6e" stroke-width="0.55" fill="none"/>
<path d="M488.86,51.64 H490.26 M488.86,56.27 H490.26" stroke="#4a4a4a" stroke-width="0.8" fill="none"/>
<path d="M498.82,51.28 V60.56" stroke="#6e6e6e" stroke-width="0.55" fill="none"/>
<path d="M498.12,51.28 H499.52 M498.12,60.56 H499.52" stroke="#4a4a4a" stroke-width="0.8" fill="none"/>
<path d="M508.08,53.69 V60.64" stroke="#6e6e6e" stroke-width="0.55" fill="none"/>
<path d="M507.38,53.69 H508.78 M507.38,60.64 H508.78" stroke="#4a4a4a" stroke-width="0.8" fill="none"/>
<path d="M517.34,52.44 V59.4" stroke="#6e6e6e" stroke-width="0.55" fill="none"/>
<path d="M516.64,52.44 H518.04 M516.64,59.4 H518.04" stroke="#4a4a4a" stroke-width="0.8" fill="none"/>
<path d="M526.6,52.24 V57.81" stroke="#6e6e6e" stroke-width="0.55" fill="none"/>
<path d="M525.9,52.24 H527.3 M525.9,57.81 H527.3" stroke="#4a4a4a" stroke-width="0.8" fill="none"/>
<path d="M535.86,54.03 V59.59" stroke="#6e6e6e" stroke-width="0.55" fill="none"/>
<path d="M535.16,54.03 H536.56 M535.16,59.59 H536.56" stroke="#4a4a4a" stroke-width="0.8" fill="none"/>
<path d="M480.3,56.81 C481.84,56.33 486.47,54.11 489.56,53.96 C492.65,53.81 495.73,55.38 498.82,55.92 C501.91,56.45 504.99,57.17 508.08,57.17 C511.17,57.17 514.25,56.28 517.34,55.92 C520.43,55.56 523.51,54.88 526.6,55.03 C529.69,55.18 534.32,56.51 535.86,56.81" fill="none" stroke="#575757" stroke-width="1.45"/>
<rect x="478.6" y="55.26" width="3.4" height="3.1" fill="#3e3e3e"/>
<rect x="487.86" y="52.41" width="3.4" height="3.1" fill="#3e3e3e"/>
<rect x="497.12" y="54.37" width="3.4" height="3.1" fill="#3e3e3e"/>
<rect x="506.38" y="55.62" width="3.4" height="3.1" fill="#3e3e3e"/>
<rect x="515.64" y="54.37" width="3.4" height="3.1" fill="#3e3e3e"/>
<rect x="524.9" y="53.48" width="3.4" height="3.1" fill="#3e3e3e"/>
<rect x="534.16" y="55.26" width="3.4" height="3.1" fill="#3e3e3e"/>
<path d="M587.4,20.8 V75.2 H653.6" fill="none" stroke="#c2c2c2" stroke-width="1"/>
<text x="584.8" y="76.6" class="tk" text-anchor="end">0.5</text>
<text x="584.8" y="65.86" class="tk" text-anchor="end">1</text>
<text x="584.8" y="55.12" class="tk" text-anchor="end">1.5</text>
<text x="584.8" y="44.38" class="tk" text-anchor="end">2</text>
<text x="584.8" y="33.64" class="tk" text-anchor="end">2.5</text>
<text x="584.8" y="22.9" class="tk" text-anchor="end">3</text>
<text x="584.9" y="80" class="tk">CT</text>
<text x="592.2" y="80" class="tk" text-anchor="middle">0</text>
<text x="601.42" y="80" class="tk" text-anchor="middle">4</text>
<text x="610.64" y="80" class="tk" text-anchor="middle">8</text>
<text x="619.86" y="80" class="tk" text-anchor="middle">12</text>
<text x="629.08" y="80" class="tk" text-anchor="middle">16</text>
<text x="638.3" y="80" class="tk" text-anchor="middle">20</text>
<text x="647.52" y="80" class="tk" text-anchor="middle">24</text>
<text class="yt" transform="translate(577.6,46.85) rotate(-90)" text-anchor="middle" textLength="53" lengthAdjust="spacingAndGlyphs">Relative mRNA expression</text>
<text x="612.6" y="16.2" class="ti" textLength="17.2" lengthAdjust="spacingAndGlyphs">PER1</text>
<line x1="646" y1="24.6" x2="652.9" y2="24.6" stroke="#555" stroke-width="1.0"/>
<ellipse cx="649.45" cy="24.6" rx="1.4" ry="1.1" fill="#2a2a2a"/>
<line x1="649.45" y1="29.5" x2="649.45" y2="31.3" stroke="#aaa" stroke-width="0.6"/>
<line x1="646" y1="30.4" x2="652.9" y2="30.4" stroke="#b3b3b3" stroke-width="0.8"/>
<text x="654.5" y="26" class="lg" textLength="5.7" lengthAdjust="spacingAndGlyphs">NC</text>
<text x="654.5" y="31.8" class="lg" textLength="24.3" lengthAdjust="spacingAndGlyphs">Anti-miR-135b</text>
<path d="M592.2,36.44 V43.53" stroke="#a0a0a0" stroke-width="0.55" fill="none"/>
<path d="M591.5,36.44 H592.9 M591.5,43.53 H592.9" stroke="#808080" stroke-width="0.8" fill="none"/>
<path d="M601.42,24.74 V34.19" stroke="#a0a0a0" stroke-width="0.55" fill="none"/>
<path d="M600.72,24.74 H602.12 M600.72,34.19 H602.12" stroke="#808080" stroke-width="0.8" fill="none"/>
<path d="M610.64,40.52 V47.61" stroke="#a0a0a0" stroke-width="0.55" fill="none"/>
<path d="M609.94,40.52 H611.34 M609.94,47.61 H611.34" stroke="#808080" stroke-width="0.8" fill="none"/>
<path d="M619.86,49.55 V56.63" stroke="#a0a0a0" stroke-width="0.55" fill="none"/>
<path d="M619.16,49.55 H620.56 M619.16,56.63 H620.56" stroke="#808080" stroke-width="0.8" fill="none"/>
<path d="M629.08,52.55 V59.64" stroke="#a0a0a0" stroke-width="0.55" fill="none"/>
<path d="M628.38,52.55 H629.78 M628.38,59.64 H629.78" stroke="#808080" stroke-width="0.8" fill="none"/>
<path d="M638.3,45.53 V51.2" stroke="#a0a0a0" stroke-width="0.55" fill="none"/>
<path d="M637.6,45.53 H639 M637.6,51.2 H639" stroke="#808080" stroke-width="0.8" fill="none"/>
<path d="M647.52,40.59 V46.26" stroke="#a0a0a0" stroke-width="0.55" fill="none"/>
<path d="M646.82,40.59 H648.22 M646.82,46.26 H648.22" stroke="#808080" stroke-width="0.8" fill="none"/>
<path d="M592.2,39.99 C593.74,38.23 598.35,28.78 601.42,29.46 C604.49,30.14 607.57,40.13 610.64,44.07 C613.71,48.01 616.79,51.09 619.86,53.09 C622.93,55.1 626.01,56.89 629.08,56.1 C632.15,55.31 635.23,50.48 638.3,48.36 C641.37,46.25 645.98,44.25 647.52,43.42" fill="none" stroke="#b3b3b3" stroke-width="1.5"/>
<rect x="591" y="38.89" width="2.4" height="2.2" fill="#a6a6a6"/>
<rect x="600.22" y="28.36" width="2.4" height="2.2" fill="#a6a6a6"/>
<rect x="609.44" y="42.97" width="2.4" height="2.2" fill="#a6a6a6"/>
<rect x="618.66" y="51.99" width="2.4" height="2.2" fill="#a6a6a6"/>
<rect x="627.88" y="55" width="2.4" height="2.2" fill="#a6a6a6"/>
<rect x="637.1" y="47.26" width="2.4" height="2.2" fill="#a6a6a6"/>
<rect x="646.32" y="42.32" width="2.4" height="2.2" fill="#a6a6a6"/>
<path d="M592.2,62.11 V67.7" stroke="#6e6e6e" stroke-width="0.55" fill="none"/>
<path d="M591.5,62.11 H592.9 M591.5,67.7 H592.9" stroke="#4a4a4a" stroke-width="0.8" fill="none"/>
<path d="M601.42,59.53 V65.12" stroke="#6e6e6e" stroke-width="0.55" fill="none"/>
<path d="M600.72,59.53 H602.12 M600.72,65.12 H602.12" stroke="#4a4a4a" stroke-width="0.8" fill="none"/>
<path d="M610.64,60.69 V67.4" stroke="#6e6e6e" stroke-width="0.55" fill="none"/>
<path d="M609.94,60.69 H611.34 M609.94,67.4 H611.34" stroke="#4a4a4a" stroke-width="0.8" fill="none"/>
<path d="M619.86,61.34 V68.04" stroke="#6e6e6e" stroke-width="0.55" fill="none"/>
<path d="M619.16,61.34 H620.56 M619.16,68.04 H620.56" stroke="#4a4a4a" stroke-width="0.8" fill="none"/>
<path d="M629.08,59.53 V65.12" stroke="#6e6e6e" stroke-width="0.55" fill="none"/>
<path d="M628.38,59.53 H629.78 M628.38,65.12 H629.78" stroke="#4a4a4a" stroke-width="0.8" fill="none"/>
<path d="M638.3,59.75 V65.33" stroke="#6e6e6e" stroke-width="0.55" fill="none"/>
<path d="M637.6,59.75 H639 M637.6,65.33 H639" stroke="#4a4a4a" stroke-width="0.8" fill="none"/>
<path d="M647.52,60.95 V65.42" stroke="#6e6e6e" stroke-width="0.55" fill="none"/>
<path d="M646.82,60.95 H648.22 M646.82,65.42 H648.22" stroke="#4a4a4a" stroke-width="0.8" fill="none"/>
<path d="M592.2,64.9 C593.74,64.47 598.35,62.47 601.42,62.33 C604.49,62.18 607.57,63.65 610.64,64.05 C613.71,64.44 616.79,64.98 619.86,64.69 C622.93,64.4 626.01,62.68 629.08,62.33 C632.15,61.97 635.23,62.4 638.3,62.54 C641.37,62.68 645.98,63.08 647.52,63.19" fill="none" stroke="#575757" stroke-width="1.45"/>
<rect x="590.5" y="63.35" width="3.4" height="3.1" fill="#3e3e3e"/>
<rect x="599.72" y="60.78" width="3.4" height="3.1" fill="#3e3e3e"/>
<rect x="608.94" y="62.5" width="3.4" height="3.1" fill="#3e3e3e"/>
<rect x="618.16" y="63.14" width="3.4" height="3.1" fill="#3e3e3e"/>
<rect x="627.38" y="60.78" width="3.4" height="3.1" fill="#3e3e3e"/>
<rect x="636.6" y="60.99" width="3.4" height="3.1" fill="#3e3e3e"/>
<rect x="645.82" y="61.64" width="3.4" height="3.1" fill="#3e3e3e"/>
<path d="M359.1,103 V156.9 H424.2" fill="none" stroke="#c2c2c2" stroke-width="1"/>
<text x="356.5" y="158.3" class="tk" text-anchor="end">0.5</text>
<text x="356.5" y="149.43" class="tk" text-anchor="end">1</text>
<text x="356.5" y="140.57" class="tk" text-anchor="end">1.5</text>
<text x="356.5" y="131.7" class="tk" text-anchor="end">2</text>
<text x="356.5" y="122.83" class="tk" text-anchor="end">2.5</text>
<text x="356.5" y="113.97" class="tk" text-anchor="end">3</text>
<text x="356.5" y="105.1" class="tk" text-anchor="end">3.5</text>
<text x="356.7" y="162.8" class="tk">CT</text>
<text x="364.3" y="162.8" class="tk" text-anchor="middle">0</text>
<text x="373.53" y="162.8" class="tk" text-anchor="middle">4</text>
<text x="382.76" y="162.8" class="tk" text-anchor="middle">8</text>
<text x="391.99" y="162.8" class="tk" text-anchor="middle">12</text>
<text x="401.22" y="162.8" class="tk" text-anchor="middle">16</text>
<text x="410.45" y="162.8" class="tk" text-anchor="middle">20</text>
<text x="419.68" y="162.8" class="tk" text-anchor="middle">24</text>
<text class="yt" transform="translate(349.3,128.8) rotate(-90)" text-anchor="middle" textLength="53" lengthAdjust="spacingAndGlyphs">Relative mRNA expression</text>
<text x="384.1" y="101.5" class="ti" textLength="17.4" lengthAdjust="spacingAndGlyphs">PER2</text>
<line x1="418" y1="107.3" x2="424.2" y2="107.3" stroke="#555" stroke-width="1.0"/>
<ellipse cx="421.1" cy="107.3" rx="1.4" ry="1.1" fill="#2a2a2a"/>
<line x1="421.1" y1="112.1" x2="421.1" y2="113.9" stroke="#aaa" stroke-width="0.6"/>
<line x1="418" y1="113" x2="424.2" y2="113" stroke="#b3b3b3" stroke-width="0.8"/>
<text x="426.2" y="108.7" class="lg" textLength="5.7" lengthAdjust="spacingAndGlyphs">NC</text>
<text x="426.2" y="114.4" class="lg" textLength="23.9" lengthAdjust="spacingAndGlyphs">Anti-miR-135b</text>
<path d="M364.3,131.31 V135.99" stroke="#a0a0a0" stroke-width="0.55" fill="none"/>
<path d="M363.6,131.31 H365 M363.6,135.99 H365" stroke="#808080" stroke-width="0.8" fill="none"/>
<path d="M373.53,138.52 V144.38" stroke="#a0a0a0" stroke-width="0.55" fill="none"/>
<path d="M372.83,138.52 H374.23 M372.83,144.38 H374.23" stroke="#808080" stroke-width="0.8" fill="none"/>
<path d="M382.76,114.05 V119.9" stroke="#a0a0a0" stroke-width="0.55" fill="none"/>
<path d="M382.06,114.05 H383.46 M382.06,119.9 H383.46" stroke="#808080" stroke-width="0.8" fill="none"/>
<path d="M391.99,131.96 V137.81" stroke="#a0a0a0" stroke-width="0.55" fill="none"/>
<path d="M391.29,131.96 H392.69 M391.29,137.81 H392.69" stroke="#808080" stroke-width="0.8" fill="none"/>
<path d="M401.22,139.82 V144.5" stroke="#a0a0a0" stroke-width="0.55" fill="none"/>
<path d="M400.52,139.82 H401.92 M400.52,144.5 H401.92" stroke="#808080" stroke-width="0.8" fill="none"/>
<path d="M410.45,118.84 V124.69" stroke="#a0a0a0" stroke-width="0.55" fill="none"/>
<path d="M409.75,118.84 H411.15 M409.75,124.69 H411.15" stroke="#808080" stroke-width="0.8" fill="none"/>
<path d="M419.68,132.76 V140.56" stroke="#a0a0a0" stroke-width="0.55" fill="none"/>
<path d="M418.98,132.76 H420.38 M418.98,140.56 H420.38" stroke="#808080" stroke-width="0.8" fill="none"/>
<path d="M364.3,133.65 C365.84,134.95 370.45,144.23 373.53,141.45 C376.61,138.67 379.68,118.07 382.76,116.98 C385.84,115.88 388.91,130.69 391.99,134.89 C395.07,139.08 398.14,144.35 401.22,142.16 C404.3,139.97 407.37,122.68 410.45,121.77 C413.53,120.85 418.14,134.18 419.68,136.66" fill="none" stroke="#b3b3b3" stroke-width="1.5"/>
<rect x="363.1" y="132.55" width="2.4" height="2.2" fill="#a6a6a6"/>
<rect x="372.33" y="140.35" width="2.4" height="2.2" fill="#a6a6a6"/>
<rect x="381.56" y="115.88" width="2.4" height="2.2" fill="#a6a6a6"/>
<rect x="390.79" y="133.79" width="2.4" height="2.2" fill="#a6a6a6"/>
<rect x="400.02" y="141.06" width="2.4" height="2.2" fill="#a6a6a6"/>
<rect x="409.25" y="120.67" width="2.4" height="2.2" fill="#a6a6a6"/>
<rect x="418.48" y="135.56" width="2.4" height="2.2" fill="#a6a6a6"/>
<path d="M364.3,145.88 V150.49" stroke="#6e6e6e" stroke-width="0.55" fill="none"/>
<path d="M363.6,145.88 H365 M363.6,150.49 H365" stroke="#4a4a4a" stroke-width="0.8" fill="none"/>
<path d="M373.53,141.87 V147.41" stroke="#6e6e6e" stroke-width="0.55" fill="none"/>
<path d="M372.83,141.87 H374.23 M372.83,147.41 H374.23" stroke="#4a4a4a" stroke-width="0.8" fill="none"/>
<path d="M382.76,143.47 V149" stroke="#6e6e6e" stroke-width="0.55" fill="none"/>
<path d="M382.06,143.47 H383.46 M382.06,149 H383.46" stroke="#4a4a4a" stroke-width="0.8" fill="none"/>
<path d="M391.99,147.59 V151.27" stroke="#6e6e6e" stroke-width="0.55" fill="none"/>
<path d="M391.29,147.59 H392.69 M391.29,151.27 H392.69" stroke="#4a4a4a" stroke-width="0.8" fill="none"/>
<path d="M401.22,146.59 V151.2" stroke="#6e6e6e" stroke-width="0.55" fill="none"/>
<path d="M400.52,146.59 H401.92 M400.52,151.2 H401.92" stroke="#4a4a4a" stroke-width="0.8" fill="none"/>
<path d="M410.45,142.58 V148.12" stroke="#6e6e6e" stroke-width="0.55" fill="none"/>
<path d="M409.75,142.58 H411.15 M409.75,148.12 H411.15" stroke="#4a4a4a" stroke-width="0.8" fill="none"/>
<path d="M419.68,143.93 V148.54" stroke="#6e6e6e" stroke-width="0.55" fill="none"/>
<path d="M418.98,143.93 H420.38 M418.98,148.54 H420.38" stroke="#4a4a4a" stroke-width="0.8" fill="none"/>
<path d="M364.3,148.19 C365.84,147.6 370.45,144.97 373.53,144.64 C376.61,144.32 379.68,145.44 382.76,146.24 C385.84,147.04 388.91,148.99 391.99,149.43 C395.07,149.87 398.14,149.58 401.22,148.9 C404.3,148.22 407.37,145.79 410.45,145.35 C413.53,144.91 418.14,146.09 419.68,146.24" fill="none" stroke="#575757" stroke-width="1.45"/>
<rect x="362.6" y="146.64" width="3.4" height="3.1" fill="#3e3e3e"/>
<rect x="371.83" y="143.09" width="3.4" height="3.1" fill="#3e3e3e"/>
<rect x="381.06" y="144.69" width="3.4" height="3.1" fill="#3e3e3e"/>
<rect x="390.29" y="147.88" width="3.4" height="3.1" fill="#3e3e3e"/>
<rect x="399.52" y="147.35" width="3.4" height="3.1" fill="#3e3e3e"/>
<rect x="408.75" y="143.8" width="3.4" height="3.1" fill="#3e3e3e"/>
<rect x="417.98" y="144.69" width="3.4" height="3.1" fill="#3e3e3e"/>
<path d="M475.3,104.1 V158.5 H540" fill="none" stroke="#c2c2c2" stroke-width="1"/>
<text x="472.7" y="159.9" class="tk" text-anchor="end">0.4</text>
<text x="472.7" y="149.16" class="tk" text-anchor="end">0.8</text>
<text x="472.7" y="138.42" class="tk" text-anchor="end">1.2</text>
<text x="472.7" y="127.68" class="tk" text-anchor="end">1.6</text>
<text x="472.7" y="116.94" class="tk" text-anchor="end">2</text>
<text x="472.7" y="106.2" class="tk" text-anchor="end">2.4</text>
<text x="473" y="163.7" class="tk">CT</text>
<text x="479.7" y="163.7" class="tk" text-anchor="middle">0</text>
<text x="489" y="163.7" class="tk" text-anchor="middle">4</text>
<text x="498.3" y="163.7" class="tk" text-anchor="middle">8</text>
<text x="507.6" y="163.7" class="tk" text-anchor="middle">12</text>
<text x="516.9" y="163.7" class="tk" text-anchor="middle">16</text>
<text x="526.2" y="163.7" class="tk" text-anchor="middle">20</text>
<text x="535.5" y="163.7" class="tk" text-anchor="middle">24</text>
<text class="yt" transform="translate(465.5,130.15) rotate(-90)" text-anchor="middle" textLength="53" lengthAdjust="spacingAndGlyphs">Relative mRNA expression</text>
<text x="500.5" y="101.5" class="ti" textLength="18.6" lengthAdjust="spacingAndGlyphs">CRY1</text>
<line x1="536" y1="106.6" x2="542.5" y2="106.6" stroke="#555" stroke-width="1.0"/>
<ellipse cx="539.25" cy="106.6" rx="1.4" ry="1.1" fill="#2a2a2a"/>
<line x1="539.25" y1="111.5" x2="539.25" y2="113.3" stroke="#aaa" stroke-width="0.6"/>
<line x1="536" y1="112.4" x2="542.5" y2="112.4" stroke="#b3b3b3" stroke-width="0.8"/>
<text x="544" y="108" class="lg" textLength="5.8" lengthAdjust="spacingAndGlyphs">NC</text>
<text x="544" y="113.8" class="lg" textLength="24.1" lengthAdjust="spacingAndGlyphs">Anti-miR-135b</text>
<path d="M479.7,115.93 V126.56" stroke="#a0a0a0" stroke-width="0.55" fill="none"/>
<path d="M479,115.93 H480.4 M479,126.56 H480.4" stroke="#808080" stroke-width="0.8" fill="none"/>
<path d="M489,128.09 V136.95" stroke="#a0a0a0" stroke-width="0.55" fill="none"/>
<path d="M488.3,128.09 H489.7 M488.3,136.95 H489.7" stroke="#808080" stroke-width="0.8" fill="none"/>
<path d="M498.3,138.48 V149.12" stroke="#a0a0a0" stroke-width="0.55" fill="none"/>
<path d="M497.6,138.48 H499 M497.6,149.12 H499" stroke="#808080" stroke-width="0.8" fill="none"/>
<path d="M507.6,142.67 V149.76" stroke="#a0a0a0" stroke-width="0.55" fill="none"/>
<path d="M506.9,142.67 H508.3 M506.9,149.76 H508.3" stroke="#808080" stroke-width="0.8" fill="none"/>
<path d="M516.9,132.93 V141.79" stroke="#a0a0a0" stroke-width="0.55" fill="none"/>
<path d="M516.2,132.93 H517.6 M516.2,141.79 H517.6" stroke="#808080" stroke-width="0.8" fill="none"/>
<path d="M526.2,124.95 V132.04" stroke="#a0a0a0" stroke-width="0.55" fill="none"/>
<path d="M525.5,124.95 H526.9 M525.5,132.04 H526.9" stroke="#808080" stroke-width="0.8" fill="none"/>
<path d="M535.5,117.54 V128.17" stroke="#a0a0a0" stroke-width="0.55" fill="none"/>
<path d="M534.8,117.54 H536.2 M534.8,128.17 H536.2" stroke="#808080" stroke-width="0.8" fill="none"/>
<path d="M479.7,121.25 C481.25,123.13 485.9,128.76 489,132.52 C492.1,136.28 495.2,141.52 498.3,143.8 C501.4,146.08 504.5,147.29 507.6,146.22 C510.7,145.14 513.8,140.31 516.9,137.36 C520,134.4 523.1,130.91 526.2,128.5 C529.3,126.08 533.95,123.8 535.5,122.86" fill="none" stroke="#b3b3b3" stroke-width="1.5"/>
<rect x="478.5" y="120.15" width="2.4" height="2.2" fill="#a6a6a6"/>
<rect x="487.8" y="131.42" width="2.4" height="2.2" fill="#a6a6a6"/>
<rect x="497.1" y="142.7" width="2.4" height="2.2" fill="#a6a6a6"/>
<rect x="506.4" y="145.12" width="2.4" height="2.2" fill="#a6a6a6"/>
<rect x="515.7" y="136.26" width="2.4" height="2.2" fill="#a6a6a6"/>
<rect x="525" y="127.4" width="2.4" height="2.2" fill="#a6a6a6"/>
<rect x="534.3" y="121.76" width="2.4" height="2.2" fill="#a6a6a6"/>
<path d="M479.7,137.89 V144.88" stroke="#6e6e6e" stroke-width="0.55" fill="none"/>
<path d="M479,137.89 H480.4 M479,144.88 H480.4" stroke="#4a4a4a" stroke-width="0.8" fill="none"/>
<path d="M489,141.81 V147.4" stroke="#6e6e6e" stroke-width="0.55" fill="none"/>
<path d="M488.3,141.81 H489.7 M488.3,147.4 H489.7" stroke="#4a4a4a" stroke-width="0.8" fill="none"/>
<path d="M498.3,145.25 V153.63" stroke="#6e6e6e" stroke-width="0.55" fill="none"/>
<path d="M497.6,145.25 H499 M497.6,153.63 H499" stroke="#4a4a4a" stroke-width="0.8" fill="none"/>
<path d="M507.6,143.91 V152.29" stroke="#6e6e6e" stroke-width="0.55" fill="none"/>
<path d="M506.9,143.91 H508.3 M506.9,152.29 H508.3" stroke="#4a4a4a" stroke-width="0.8" fill="none"/>
<path d="M516.9,140.04 V147.02" stroke="#6e6e6e" stroke-width="0.55" fill="none"/>
<path d="M516.2,140.04 H517.6 M516.2,147.02 H517.6" stroke="#4a4a4a" stroke-width="0.8" fill="none"/>
<path d="M526.2,144.77 V150.35" stroke="#6e6e6e" stroke-width="0.55" fill="none"/>
<path d="M525.5,144.77 H526.9 M525.5,150.35 H526.9" stroke="#4a4a4a" stroke-width="0.8" fill="none"/>
<path d="M535.5,143.53 V150.51" stroke="#6e6e6e" stroke-width="0.55" fill="none"/>
<path d="M534.8,143.53 H536.2 M534.8,150.51 H536.2" stroke="#4a4a4a" stroke-width="0.8" fill="none"/>
<path d="M479.7,141.38 C481.25,141.92 485.9,143.26 489,144.61 C492.1,145.95 495.2,148.86 498.3,149.44 C501.4,150.02 504.5,149.08 507.6,148.1 C510.7,147.11 513.8,143.62 516.9,143.53 C520,143.44 523.1,146.98 526.2,147.56 C529.3,148.14 533.95,147.11 535.5,147.02" fill="none" stroke="#575757" stroke-width="1.45"/>
<rect x="478" y="139.83" width="3.4" height="3.1" fill="#3e3e3e"/>
<rect x="487.3" y="143.06" width="3.4" height="3.1" fill="#3e3e3e"/>
<rect x="496.6" y="147.89" width="3.4" height="3.1" fill="#3e3e3e"/>
<rect x="505.9" y="146.55" width="3.4" height="3.1" fill="#3e3e3e"/>
<rect x="515.2" y="141.98" width="3.4" height="3.1" fill="#3e3e3e"/>
<rect x="524.5" y="146.01" width="3.4" height="3.1" fill="#3e3e3e"/>
<rect x="533.8" y="145.47" width="3.4" height="3.1" fill="#3e3e3e"/>
<path d="M586.4,104.7 V159 H651.7" fill="none" stroke="#c2c2c2" stroke-width="1"/>
<text x="583.8" y="160.4" class="tk" text-anchor="end">0.4</text>
<text x="583.8" y="151.47" class="tk" text-anchor="end">0.8</text>
<text x="583.8" y="142.53" class="tk" text-anchor="end">1.2</text>
<text x="583.8" y="133.6" class="tk" text-anchor="end">1.6</text>
<text x="583.8" y="124.67" class="tk" text-anchor="end">2</text>
<text x="583.8" y="115.73" class="tk" text-anchor="end">2.4</text>
<text x="583.8" y="106.8" class="tk" text-anchor="end">2.8</text>
<text x="584.3" y="164" class="tk">CT</text>
<text x="591.4" y="164" class="tk" text-anchor="middle">0</text>
<text x="600.7" y="164" class="tk" text-anchor="middle">4</text>
<text x="610" y="164" class="tk" text-anchor="middle">8</text>
<text x="619.3" y="164" class="tk" text-anchor="middle">12</text>
<text x="628.6" y="164" class="tk" text-anchor="middle">16</text>
<text x="637.9" y="164" class="tk" text-anchor="middle">20</text>
<text x="647.2" y="164" class="tk" text-anchor="middle">24</text>
<text class="yt" transform="translate(576.6,130.7) rotate(-90)" text-anchor="middle" textLength="53" lengthAdjust="spacingAndGlyphs">Relative mRNA expression</text>
<text x="611.1" y="101.5" class="ti" textLength="18.9" lengthAdjust="spacingAndGlyphs">CRY2</text>
<line x1="646" y1="106.6" x2="652.5" y2="106.6" stroke="#555" stroke-width="1.0"/>
<ellipse cx="649.25" cy="106.6" rx="1.4" ry="1.1" fill="#2a2a2a"/>
<line x1="649.25" y1="111.4" x2="649.25" y2="113.2" stroke="#aaa" stroke-width="0.6"/>
<line x1="646" y1="112.3" x2="652.5" y2="112.3" stroke="#b3b3b3" stroke-width="0.8"/>
<text x="654" y="108" class="lg" textLength="5.8" lengthAdjust="spacingAndGlyphs">NC</text>
<text x="654" y="113.7" class="lg" textLength="24.1" lengthAdjust="spacingAndGlyphs">Anti-miR-135b</text>
<path d="M591.4,125.93 V131.82" stroke="#a0a0a0" stroke-width="0.55" fill="none"/>
<path d="M590.7,125.93 H592.1 M590.7,131.82 H592.1" stroke="#808080" stroke-width="0.8" fill="none"/>
<path d="M600.7,131.11 V140.93" stroke="#a0a0a0" stroke-width="0.55" fill="none"/>
<path d="M600,131.11 H601.4 M600,140.93 H601.4" stroke="#808080" stroke-width="0.8" fill="none"/>
<path d="M610,142.61 V149.98" stroke="#a0a0a0" stroke-width="0.55" fill="none"/>
<path d="M609.3,142.61 H610.7 M609.3,149.98 H610.7" stroke="#808080" stroke-width="0.8" fill="none"/>
<path d="M619.3,145.06 V152.44" stroke="#a0a0a0" stroke-width="0.55" fill="none"/>
<path d="M618.6,145.06 H620 M618.6,152.44 H620" stroke="#808080" stroke-width="0.8" fill="none"/>
<path d="M628.6,135.02 V142.39" stroke="#a0a0a0" stroke-width="0.55" fill="none"/>
<path d="M627.9,135.02 H629.3 M627.9,142.39 H629.3" stroke="#808080" stroke-width="0.8" fill="none"/>
<path d="M637.9,117.59 V124.97" stroke="#a0a0a0" stroke-width="0.55" fill="none"/>
<path d="M637.2,117.59 H638.6 M637.2,124.97 H638.6" stroke="#808080" stroke-width="0.8" fill="none"/>
<path d="M647.2,130.1 V137.47" stroke="#a0a0a0" stroke-width="0.55" fill="none"/>
<path d="M646.5,130.1 H647.9 M646.5,137.47 H647.9" stroke="#808080" stroke-width="0.8" fill="none"/>
<path d="M591.4,128.87 C592.95,130.06 597.6,133.12 600.7,136.02 C603.8,138.92 606.9,144.17 610,146.29 C613.1,148.42 616.2,150.02 619.3,148.75 C622.4,147.48 625.5,143.28 628.6,138.7 C631.7,134.12 634.8,122.1 637.9,121.28 C641,120.46 645.65,131.7 647.2,133.79" fill="none" stroke="#b3b3b3" stroke-width="1.5"/>
<rect x="590.2" y="127.77" width="2.4" height="2.2" fill="#a6a6a6"/>
<rect x="599.5" y="134.92" width="2.4" height="2.2" fill="#a6a6a6"/>
<rect x="608.8" y="145.19" width="2.4" height="2.2" fill="#a6a6a6"/>
<rect x="618.1" y="147.65" width="2.4" height="2.2" fill="#a6a6a6"/>
<rect x="627.4" y="137.6" width="2.4" height="2.2" fill="#a6a6a6"/>
<rect x="636.7" y="120.18" width="2.4" height="2.2" fill="#a6a6a6"/>
<rect x="646" y="132.69" width="2.4" height="2.2" fill="#a6a6a6"/>
<path d="M591.4,142.5 V148.3" stroke="#6e6e6e" stroke-width="0.55" fill="none"/>
<path d="M590.7,142.5 H592.1 M590.7,148.3 H592.1" stroke="#4a4a4a" stroke-width="0.8" fill="none"/>
<path d="M600.7,146.61 V153.57" stroke="#6e6e6e" stroke-width="0.55" fill="none"/>
<path d="M600,146.61 H601.4 M600,153.57 H601.4" stroke="#4a4a4a" stroke-width="0.8" fill="none"/>
<path d="M610,142.36 V149.33" stroke="#6e6e6e" stroke-width="0.55" fill="none"/>
<path d="M609.3,142.36 H610.7 M609.3,149.33 H610.7" stroke="#4a4a4a" stroke-width="0.8" fill="none"/>
<path d="M619.3,140.35 V147.32" stroke="#6e6e6e" stroke-width="0.55" fill="none"/>
<path d="M618.6,140.35 H620 M618.6,147.32 H620" stroke="#4a4a4a" stroke-width="0.8" fill="none"/>
<path d="M628.6,136.33 V143.3" stroke="#6e6e6e" stroke-width="0.55" fill="none"/>
<path d="M627.9,136.33 H629.3 M627.9,143.3 H629.3" stroke="#4a4a4a" stroke-width="0.8" fill="none"/>
<path d="M637.9,139.46 V146.43" stroke="#6e6e6e" stroke-width="0.55" fill="none"/>
<path d="M637.2,139.46 H638.6 M637.2,146.43 H638.6" stroke="#4a4a4a" stroke-width="0.8" fill="none"/>
<path d="M647.2,139.37 V145.18" stroke="#6e6e6e" stroke-width="0.55" fill="none"/>
<path d="M646.5,139.37 H647.9 M646.5,145.18 H647.9" stroke="#4a4a4a" stroke-width="0.8" fill="none"/>
<path d="M591.4,145.4 C592.95,146.18 597.6,150.02 600.7,150.09 C603.8,150.16 606.9,146.89 610,145.85 C613.1,144.8 616.2,144.84 619.3,143.84 C622.4,142.83 625.5,139.97 628.6,139.82 C631.7,139.67 634.8,142.53 637.9,142.94 C641,143.35 645.65,142.38 647.2,142.27" fill="none" stroke="#575757" stroke-width="1.45"/>
<rect x="589.7" y="143.85" width="3.4" height="3.1" fill="#3e3e3e"/>
<rect x="599" y="148.54" width="3.4" height="3.1" fill="#3e3e3e"/>
<rect x="608.3" y="144.3" width="3.4" height="3.1" fill="#3e3e3e"/>
<rect x="617.6" y="142.29" width="3.4" height="3.1" fill="#3e3e3e"/>
<rect x="626.9" y="138.27" width="3.4" height="3.1" fill="#3e3e3e"/>
<rect x="636.2" y="141.39" width="3.4" height="3.1" fill="#3e3e3e"/>
<rect x="645.5" y="140.72" width="3.4" height="3.1" fill="#3e3e3e"/>
<path d="M359.8,184 V238.2 H425" fill="none" stroke="#c2c2c2" stroke-width="1"/>
<text x="357.2" y="239.6" class="tk" text-anchor="end">0.6</text>
<text x="357.2" y="226.22" class="tk" text-anchor="end">1</text>
<text x="357.2" y="212.85" class="tk" text-anchor="end">1.4</text>
<text x="357.2" y="199.47" class="tk" text-anchor="end">1.8</text>
<text x="357.2" y="186.1" class="tk" text-anchor="end">2.2</text>
<text x="358.3" y="243.3" class="tk">CT</text>
<text x="365.3" y="243.3" class="tk" text-anchor="middle">0</text>
<text x="374.47" y="243.3" class="tk" text-anchor="middle">4</text>
<text x="383.64" y="243.3" class="tk" text-anchor="middle">8</text>
<text x="392.81" y="243.3" class="tk" text-anchor="middle">12</text>
<text x="401.98" y="243.3" class="tk" text-anchor="middle">16</text>
<text x="411.15" y="243.3" class="tk" text-anchor="middle">20</text>
<text x="420.32" y="243.3" class="tk" text-anchor="middle">24</text>
<text class="yt" transform="translate(350,209.95) rotate(-90)" text-anchor="middle" textLength="53" lengthAdjust="spacingAndGlyphs">Relative mRNA expression</text>
<text x="381.5" y="181.5" class="ti" textLength="23" lengthAdjust="spacingAndGlyphs">NR1D1</text>
<line x1="419.1" y1="186.7" x2="425.3" y2="186.7" stroke="#555" stroke-width="1.0"/>
<ellipse cx="422.2" cy="186.7" rx="1.4" ry="1.1" fill="#2a2a2a"/>
<line x1="422.2" y1="191.5" x2="422.2" y2="193.3" stroke="#aaa" stroke-width="0.6"/>
<line x1="419.1" y1="192.4" x2="425.3" y2="192.4" stroke="#b3b3b3" stroke-width="0.8"/>
<text x="427.2" y="188.1" class="lg" textLength="5.4" lengthAdjust="spacingAndGlyphs">NC</text>
<text x="427.2" y="193.8" class="lg" textLength="23.7" lengthAdjust="spacingAndGlyphs">Anti-miR-135b</text>
<path d="M365.3,206.97 V220.21" stroke="#a0a0a0" stroke-width="0.55" fill="none"/>
<path d="M364.6,206.97 H366 M364.6,220.21 H366" stroke="#808080" stroke-width="0.8" fill="none"/>
<path d="M374.47,218.44 V229.47" stroke="#a0a0a0" stroke-width="0.55" fill="none"/>
<path d="M373.77,218.44 H375.17 M373.77,229.47 H375.17" stroke="#808080" stroke-width="0.8" fill="none"/>
<path d="M383.64,193.83 V201.92" stroke="#a0a0a0" stroke-width="0.55" fill="none"/>
<path d="M382.94,193.83 H384.34 M382.94,201.92 H384.34" stroke="#808080" stroke-width="0.8" fill="none"/>
<path d="M392.81,207.47 V224.39" stroke="#a0a0a0" stroke-width="0.55" fill="none"/>
<path d="M392.11,207.47 H393.51 M392.11,224.39 H393.51" stroke="#808080" stroke-width="0.8" fill="none"/>
<path d="M401.98,207.1 V217.4" stroke="#a0a0a0" stroke-width="0.55" fill="none"/>
<path d="M401.28,207.1 H402.68 M401.28,217.4 H402.68" stroke="#808080" stroke-width="0.8" fill="none"/>
<path d="M411.15,220.61 V235.32" stroke="#a0a0a0" stroke-width="0.55" fill="none"/>
<path d="M410.45,220.61 H411.85 M410.45,235.32 H411.85" stroke="#808080" stroke-width="0.8" fill="none"/>
<path d="M420.32,198.14 V214.33" stroke="#a0a0a0" stroke-width="0.55" fill="none"/>
<path d="M419.62,198.14 H421.02 M419.62,214.33 H421.02" stroke="#808080" stroke-width="0.8" fill="none"/>
<path d="M365.3,213.59 C366.83,215.32 371.41,226.58 374.47,223.96 C377.53,221.34 380.58,199.21 383.64,197.88 C386.7,196.54 389.75,213.53 392.81,215.93 C395.87,218.33 398.92,210.25 401.98,212.25 C405.04,214.26 408.09,228.97 411.15,227.97 C414.21,226.97 418.79,209.86 420.32,206.23" fill="none" stroke="#b3b3b3" stroke-width="1.5"/>
<rect x="364.1" y="212.49" width="2.4" height="2.2" fill="#a6a6a6"/>
<rect x="373.27" y="222.86" width="2.4" height="2.2" fill="#a6a6a6"/>
<rect x="382.44" y="196.78" width="2.4" height="2.2" fill="#a6a6a6"/>
<rect x="391.61" y="214.83" width="2.4" height="2.2" fill="#a6a6a6"/>
<rect x="400.78" y="211.15" width="2.4" height="2.2" fill="#a6a6a6"/>
<rect x="409.95" y="226.87" width="2.4" height="2.2" fill="#a6a6a6"/>
<rect x="419.12" y="205.13" width="2.4" height="2.2" fill="#a6a6a6"/>
<path d="M365.3,220.81 V227.77" stroke="#6e6e6e" stroke-width="0.55" fill="none"/>
<path d="M364.6,220.81 H366 M364.6,227.77 H366" stroke="#4a4a4a" stroke-width="0.8" fill="none"/>
<path d="M374.47,219.61 V228.3" stroke="#6e6e6e" stroke-width="0.55" fill="none"/>
<path d="M373.77,219.61 H375.17 M373.77,228.3 H375.17" stroke="#4a4a4a" stroke-width="0.8" fill="none"/>
<path d="M383.64,218.94 V227.63" stroke="#6e6e6e" stroke-width="0.55" fill="none"/>
<path d="M382.94,218.94 H384.34 M382.94,227.63 H384.34" stroke="#4a4a4a" stroke-width="0.8" fill="none"/>
<path d="M392.81,222.15 V229.11" stroke="#6e6e6e" stroke-width="0.55" fill="none"/>
<path d="M392.11,222.15 H393.51 M392.11,229.11 H393.51" stroke="#4a4a4a" stroke-width="0.8" fill="none"/>
<path d="M401.98,218.77 V223.12" stroke="#6e6e6e" stroke-width="0.55" fill="none"/>
<path d="M401.28,218.77 H402.68 M401.28,223.12 H402.68" stroke="#4a4a4a" stroke-width="0.8" fill="none"/>
<path d="M411.15,221.08 V231.51" stroke="#6e6e6e" stroke-width="0.55" fill="none"/>
<path d="M410.45,221.08 H411.85 M410.45,231.51 H411.85" stroke="#4a4a4a" stroke-width="0.8" fill="none"/>
<path d="M420.32,222.15 V229.11" stroke="#6e6e6e" stroke-width="0.55" fill="none"/>
<path d="M419.62,222.15 H421.02 M419.62,229.11 H421.02" stroke="#4a4a4a" stroke-width="0.8" fill="none"/>
<path d="M365.3,224.29 C366.83,224.23 371.41,224.12 374.47,223.96 C377.53,223.79 380.58,223.01 383.64,223.29 C386.7,223.57 389.75,226.02 392.81,225.63 C395.87,225.24 398.92,220.84 401.98,220.95 C405.04,221.06 408.09,225.52 411.15,226.3 C414.21,227.08 418.79,225.74 420.32,225.63" fill="none" stroke="#575757" stroke-width="1.45"/>
<rect x="363.6" y="222.74" width="3.4" height="3.1" fill="#3e3e3e"/>
<rect x="372.77" y="222.41" width="3.4" height="3.1" fill="#3e3e3e"/>
<rect x="381.94" y="221.74" width="3.4" height="3.1" fill="#3e3e3e"/>
<rect x="391.11" y="224.08" width="3.4" height="3.1" fill="#3e3e3e"/>
<rect x="400.28" y="219.4" width="3.4" height="3.1" fill="#3e3e3e"/>
<rect x="409.45" y="224.75" width="3.4" height="3.1" fill="#3e3e3e"/>
<rect x="418.62" y="224.08" width="3.4" height="3.1" fill="#3e3e3e"/>
<path d="M476,183.7 V238.4 H541" fill="none" stroke="#c2c2c2" stroke-width="1"/>
<text x="473.4" y="239.8" class="tk" text-anchor="end">0.6</text>
<text x="473.4" y="230.8" class="tk" text-anchor="end">1</text>
<text x="473.4" y="221.8" class="tk" text-anchor="end">1.4</text>
<text x="473.4" y="212.8" class="tk" text-anchor="end">1.8</text>
<text x="473.4" y="203.8" class="tk" text-anchor="end">2.2</text>
<text x="473.4" y="194.8" class="tk" text-anchor="end">2.6</text>
<text x="473.4" y="185.8" class="tk" text-anchor="end">3</text>
<text x="474.2" y="243.3" class="tk">CT</text>
<text x="480.9" y="243.3" class="tk" text-anchor="middle">0</text>
<text x="490.2" y="243.3" class="tk" text-anchor="middle">4</text>
<text x="499.5" y="243.3" class="tk" text-anchor="middle">8</text>
<text x="508.8" y="243.3" class="tk" text-anchor="middle">12</text>
<text x="518.1" y="243.3" class="tk" text-anchor="middle">16</text>
<text x="527.4" y="243.3" class="tk" text-anchor="middle">20</text>
<text x="536.7" y="243.3" class="tk" text-anchor="middle">24</text>
<text class="yt" transform="translate(466.2,209.9) rotate(-90)" text-anchor="middle" textLength="53" lengthAdjust="spacingAndGlyphs">Relative mRNA expression</text>
<text x="499.1" y="181.5" class="ti" textLength="20.7" lengthAdjust="spacingAndGlyphs">RORA</text>
<line x1="535.2" y1="187.1" x2="541.4" y2="187.1" stroke="#555" stroke-width="1.0"/>
<ellipse cx="538.3" cy="187.1" rx="1.4" ry="1.1" fill="#2a2a2a"/>
<line x1="538.3" y1="191.7" x2="538.3" y2="193.5" stroke="#aaa" stroke-width="0.6"/>
<line x1="535.2" y1="192.6" x2="541.4" y2="192.6" stroke="#b3b3b3" stroke-width="0.8"/>
<text x="542.9" y="188.5" class="lg" textLength="5.8" lengthAdjust="spacingAndGlyphs">NC</text>
<text x="542.9" y="194" class="lg" textLength="24.4" lengthAdjust="spacingAndGlyphs">Anti-miR-135b</text>
<path d="M480.9,206.14 V213.56" stroke="#a0a0a0" stroke-width="0.55" fill="none"/>
<path d="M480.2,206.14 H481.6 M480.2,213.56 H481.6" stroke="#808080" stroke-width="0.8" fill="none"/>
<path d="M490.2,221.44 V228.86" stroke="#a0a0a0" stroke-width="0.55" fill="none"/>
<path d="M489.5,221.44 H490.9 M489.5,228.86 H490.9" stroke="#808080" stroke-width="0.8" fill="none"/>
<path d="M499.5,215.36 V222.79" stroke="#a0a0a0" stroke-width="0.55" fill="none"/>
<path d="M498.8,215.36 H500.2 M498.8,222.79 H500.2" stroke="#808080" stroke-width="0.8" fill="none"/>
<path d="M508.8,225.49 V232.91" stroke="#a0a0a0" stroke-width="0.55" fill="none"/>
<path d="M508.1,225.49 H509.5 M508.1,232.91 H509.5" stroke="#808080" stroke-width="0.8" fill="none"/>
<path d="M518.1,188.14 V195.56" stroke="#a0a0a0" stroke-width="0.55" fill="none"/>
<path d="M517.4,188.14 H518.8 M517.4,195.56 H518.8" stroke="#808080" stroke-width="0.8" fill="none"/>
<path d="M527.4,200.96 V208.39" stroke="#a0a0a0" stroke-width="0.55" fill="none"/>
<path d="M526.7,200.96 H528.1 M526.7,208.39 H528.1" stroke="#808080" stroke-width="0.8" fill="none"/>
<path d="M536.7,210.48 V216.42" stroke="#a0a0a0" stroke-width="0.55" fill="none"/>
<path d="M536,210.48 H537.4 M536,216.42 H537.4" stroke="#808080" stroke-width="0.8" fill="none"/>
<path d="M480.9,209.85 C482.45,212.4 487.1,223.61 490.2,225.15 C493.3,226.69 496.4,218.4 499.5,219.07 C502.6,219.75 505.7,233.74 508.8,229.2 C511.9,224.66 515,195.94 518.1,191.85 C521.2,187.76 524.3,201.08 527.4,204.68 C530.5,208.28 535.15,211.99 536.7,213.45" fill="none" stroke="#b3b3b3" stroke-width="1.5"/>
<rect x="479.7" y="208.75" width="2.4" height="2.2" fill="#a6a6a6"/>
<rect x="489" y="224.05" width="2.4" height="2.2" fill="#a6a6a6"/>
<rect x="498.3" y="217.97" width="2.4" height="2.2" fill="#a6a6a6"/>
<rect x="507.6" y="228.1" width="2.4" height="2.2" fill="#a6a6a6"/>
<rect x="516.9" y="190.75" width="2.4" height="2.2" fill="#a6a6a6"/>
<rect x="526.2" y="203.58" width="2.4" height="2.2" fill="#a6a6a6"/>
<rect x="535.5" y="212.35" width="2.4" height="2.2" fill="#a6a6a6"/>
<path d="M480.9,225.69 V232.71" stroke="#6e6e6e" stroke-width="0.55" fill="none"/>
<path d="M480.2,225.69 H481.6 M480.2,232.71 H481.6" stroke="#4a4a4a" stroke-width="0.8" fill="none"/>
<path d="M490.2,223.69 V232.46" stroke="#6e6e6e" stroke-width="0.55" fill="none"/>
<path d="M489.5,223.69 H490.9 M489.5,232.46 H490.9" stroke="#4a4a4a" stroke-width="0.8" fill="none"/>
<path d="M499.5,220.88 V232.57" stroke="#6e6e6e" stroke-width="0.55" fill="none"/>
<path d="M498.8,220.88 H500.2 M498.8,232.57 H500.2" stroke="#4a4a4a" stroke-width="0.8" fill="none"/>
<path d="M508.8,224.81 V233.59" stroke="#6e6e6e" stroke-width="0.55" fill="none"/>
<path d="M508.1,224.81 H509.5 M508.1,233.59 H509.5" stroke="#4a4a4a" stroke-width="0.8" fill="none"/>
<path d="M518.1,223.22 V230.23" stroke="#6e6e6e" stroke-width="0.55" fill="none"/>
<path d="M517.4,223.22 H518.8 M517.4,230.23 H518.8" stroke="#4a4a4a" stroke-width="0.8" fill="none"/>
<path d="M527.4,225.82 V231.68" stroke="#6e6e6e" stroke-width="0.55" fill="none"/>
<path d="M526.7,225.82 H528.1 M526.7,231.68 H528.1" stroke="#4a4a4a" stroke-width="0.8" fill="none"/>
<path d="M536.7,226.72 V232.57" stroke="#6e6e6e" stroke-width="0.55" fill="none"/>
<path d="M536,226.72 H537.4 M536,232.57 H537.4" stroke="#4a4a4a" stroke-width="0.8" fill="none"/>
<path d="M480.9,229.2 C482.45,229.01 487.1,228.49 490.2,228.07 C493.3,227.66 496.4,226.54 499.5,226.72 C502.6,226.91 505.7,229.2 508.8,229.2 C511.9,229.2 515,226.8 518.1,226.72 C521.2,226.65 524.3,228.26 527.4,228.75 C530.5,229.24 535.15,229.5 536.7,229.65" fill="none" stroke="#575757" stroke-width="1.45"/>
<rect x="479.2" y="227.65" width="3.4" height="3.1" fill="#3e3e3e"/>
<rect x="488.5" y="226.52" width="3.4" height="3.1" fill="#3e3e3e"/>
<rect x="497.8" y="225.17" width="3.4" height="3.1" fill="#3e3e3e"/>
<rect x="507.1" y="227.65" width="3.4" height="3.1" fill="#3e3e3e"/>
<rect x="516.4" y="225.17" width="3.4" height="3.1" fill="#3e3e3e"/>
<rect x="525.7" y="227.2" width="3.4" height="3.1" fill="#3e3e3e"/>
<rect x="535" y="228.1" width="3.4" height="3.1" fill="#3e3e3e"/>
<path d="M587.4,184.7 V238.2 H653.6" fill="none" stroke="#c2c2c2" stroke-width="1"/>
<text x="584.8" y="239.6" class="tk" text-anchor="end">0.4</text>
<text x="584.8" y="226.4" class="tk" text-anchor="end">0.8</text>
<text x="584.8" y="213.2" class="tk" text-anchor="end">1.2</text>
<text x="584.8" y="200" class="tk" text-anchor="end">1.6</text>
<text x="584.8" y="186.8" class="tk" text-anchor="end">2</text>
<text x="585.2" y="243.3" class="tk">CT</text>
<text x="592.2" y="243.3" class="tk" text-anchor="middle">0</text>
<text x="601.5" y="243.3" class="tk" text-anchor="middle">4</text>
<text x="610.8" y="243.3" class="tk" text-anchor="middle">8</text>
<text x="620.1" y="243.3" class="tk" text-anchor="middle">12</text>
<text x="629.4" y="243.3" class="tk" text-anchor="middle">16</text>
<text x="638.7" y="243.3" class="tk" text-anchor="middle">20</text>
<text x="648" y="243.3" class="tk" text-anchor="middle">24</text>
<text class="yt" transform="translate(577.6,210.3) rotate(-90)" text-anchor="middle" textLength="53" lengthAdjust="spacingAndGlyphs">Relative mRNA expression</text>
<text x="612.2" y="181.5" class="ti" textLength="19.7" lengthAdjust="spacingAndGlyphs">SIRT1</text>
<line x1="651.8" y1="187.3" x2="658" y2="187.3" stroke="#555" stroke-width="1.0"/>
<ellipse cx="654.9" cy="187.3" rx="1.4" ry="1.1" fill="#2a2a2a"/>
<line x1="654.9" y1="191.9" x2="654.9" y2="193.7" stroke="#aaa" stroke-width="0.6"/>
<line x1="651.8" y1="192.8" x2="658" y2="192.8" stroke="#b3b3b3" stroke-width="0.8"/>
<text x="659.8" y="188.7" class="lg" textLength="5.9" lengthAdjust="spacingAndGlyphs">NC</text>
<text x="659.8" y="194.2" class="lg" textLength="23.7" lengthAdjust="spacingAndGlyphs">anti-miR-135b</text>
<path d="M592.2,198.33 V214.31" stroke="#a0a0a0" stroke-width="0.55" fill="none"/>
<path d="M591.5,198.33 H592.9 M591.5,214.31 H592.9" stroke="#808080" stroke-width="0.8" fill="none"/>
<path d="M601.5,212.26 V226.78" stroke="#a0a0a0" stroke-width="0.55" fill="none"/>
<path d="M600.8,212.26 H602.2 M600.8,226.78 H602.2" stroke="#808080" stroke-width="0.8" fill="none"/>
<path d="M610.8,205.4 V218.46" stroke="#a0a0a0" stroke-width="0.55" fill="none"/>
<path d="M610.1,205.4 H611.5 M610.1,218.46 H611.5" stroke="#808080" stroke-width="0.8" fill="none"/>
<path d="M620.1,210.21 V218.93" stroke="#a0a0a0" stroke-width="0.55" fill="none"/>
<path d="M619.4,210.21 H620.8 M619.4,218.93 H620.8" stroke="#808080" stroke-width="0.8" fill="none"/>
<path d="M629.4,216.55 V231.07" stroke="#a0a0a0" stroke-width="0.55" fill="none"/>
<path d="M628.7,216.55 H630.1 M628.7,231.07 H630.1" stroke="#808080" stroke-width="0.8" fill="none"/>
<path d="M638.7,207.31 V221.83" stroke="#a0a0a0" stroke-width="0.55" fill="none"/>
<path d="M638,207.31 H639.4 M638,221.83 H639.4" stroke="#808080" stroke-width="0.8" fill="none"/>
<path d="M648,193.62 V204.5" stroke="#a0a0a0" stroke-width="0.55" fill="none"/>
<path d="M647.3,193.62 H648.7 M647.3,204.5 H648.7" stroke="#808080" stroke-width="0.8" fill="none"/>
<path d="M592.2,206.32 C593.75,208.52 598.4,218.59 601.5,219.52 C604.6,220.46 607.7,212.75 610.8,211.93 C613.9,211.11 617,212.59 620.1,214.57 C623.2,216.55 626.3,223.81 629.4,223.81 C632.5,223.81 635.6,218.69 638.7,214.57 C641.8,210.44 646.45,201.65 648,199.06" fill="none" stroke="#b3b3b3" stroke-width="1.5"/>
<rect x="591" y="205.22" width="2.4" height="2.2" fill="#a6a6a6"/>
<rect x="600.3" y="218.42" width="2.4" height="2.2" fill="#a6a6a6"/>
<rect x="609.6" y="210.83" width="2.4" height="2.2" fill="#a6a6a6"/>
<rect x="618.9" y="213.47" width="2.4" height="2.2" fill="#a6a6a6"/>
<rect x="628.2" y="222.71" width="2.4" height="2.2" fill="#a6a6a6"/>
<rect x="637.5" y="213.47" width="2.4" height="2.2" fill="#a6a6a6"/>
<rect x="646.8" y="197.96" width="2.4" height="2.2" fill="#a6a6a6"/>
<path d="M592.2,213.25 V221.83" stroke="#6e6e6e" stroke-width="0.55" fill="none"/>
<path d="M591.5,213.25 H592.9 M591.5,221.83 H592.9" stroke="#4a4a4a" stroke-width="0.8" fill="none"/>
<path d="M601.5,213.09 V225.96" stroke="#6e6e6e" stroke-width="0.55" fill="none"/>
<path d="M600.8,213.09 H602.2 M600.8,225.96 H602.2" stroke="#4a4a4a" stroke-width="0.8" fill="none"/>
<path d="M610.8,209.62 V226.78" stroke="#6e6e6e" stroke-width="0.55" fill="none"/>
<path d="M610.1,209.62 H611.5 M610.1,226.78 H611.5" stroke="#4a4a4a" stroke-width="0.8" fill="none"/>
<path d="M620.1,209.45 V222.32" stroke="#6e6e6e" stroke-width="0.55" fill="none"/>
<path d="M619.4,209.45 H620.8 M619.4,222.32 H620.8" stroke="#4a4a4a" stroke-width="0.8" fill="none"/>
<path d="M629.4,212.75 V225.62" stroke="#6e6e6e" stroke-width="0.55" fill="none"/>
<path d="M628.7,212.75 H630.1 M628.7,225.62 H630.1" stroke="#4a4a4a" stroke-width="0.8" fill="none"/>
<path d="M638.7,212.39 V222.69" stroke="#6e6e6e" stroke-width="0.55" fill="none"/>
<path d="M638,212.39 H639.4 M638,222.69 H639.4" stroke="#4a4a4a" stroke-width="0.8" fill="none"/>
<path d="M648,212.92 V221.5" stroke="#6e6e6e" stroke-width="0.55" fill="none"/>
<path d="M647.3,212.92 H648.7 M647.3,221.5 H648.7" stroke="#4a4a4a" stroke-width="0.8" fill="none"/>
<path d="M592.2,217.54 C593.75,217.87 598.4,219.41 601.5,219.52 C604.6,219.63 607.7,218.81 610.8,218.2 C613.9,217.59 617,215.72 620.1,215.89 C623.2,216.05 626.3,218.91 629.4,219.19 C632.5,219.47 635.6,217.87 638.7,217.54 C641.8,217.21 646.45,217.27 648,217.21" fill="none" stroke="#575757" stroke-width="1.45"/>
<rect x="590.5" y="215.99" width="3.4" height="3.1" fill="#3e3e3e"/>
<rect x="599.8" y="217.97" width="3.4" height="3.1" fill="#3e3e3e"/>
<rect x="609.1" y="216.65" width="3.4" height="3.1" fill="#3e3e3e"/>
<rect x="618.4" y="214.34" width="3.4" height="3.1" fill="#3e3e3e"/>
<rect x="627.7" y="217.64" width="3.4" height="3.1" fill="#3e3e3e"/>
<rect x="637" y="215.99" width="3.4" height="3.1" fill="#3e3e3e"/>
<rect x="646.3" y="215.66" width="3.4" height="3.1" fill="#3e3e3e"/>
</svg>
</body></html>
